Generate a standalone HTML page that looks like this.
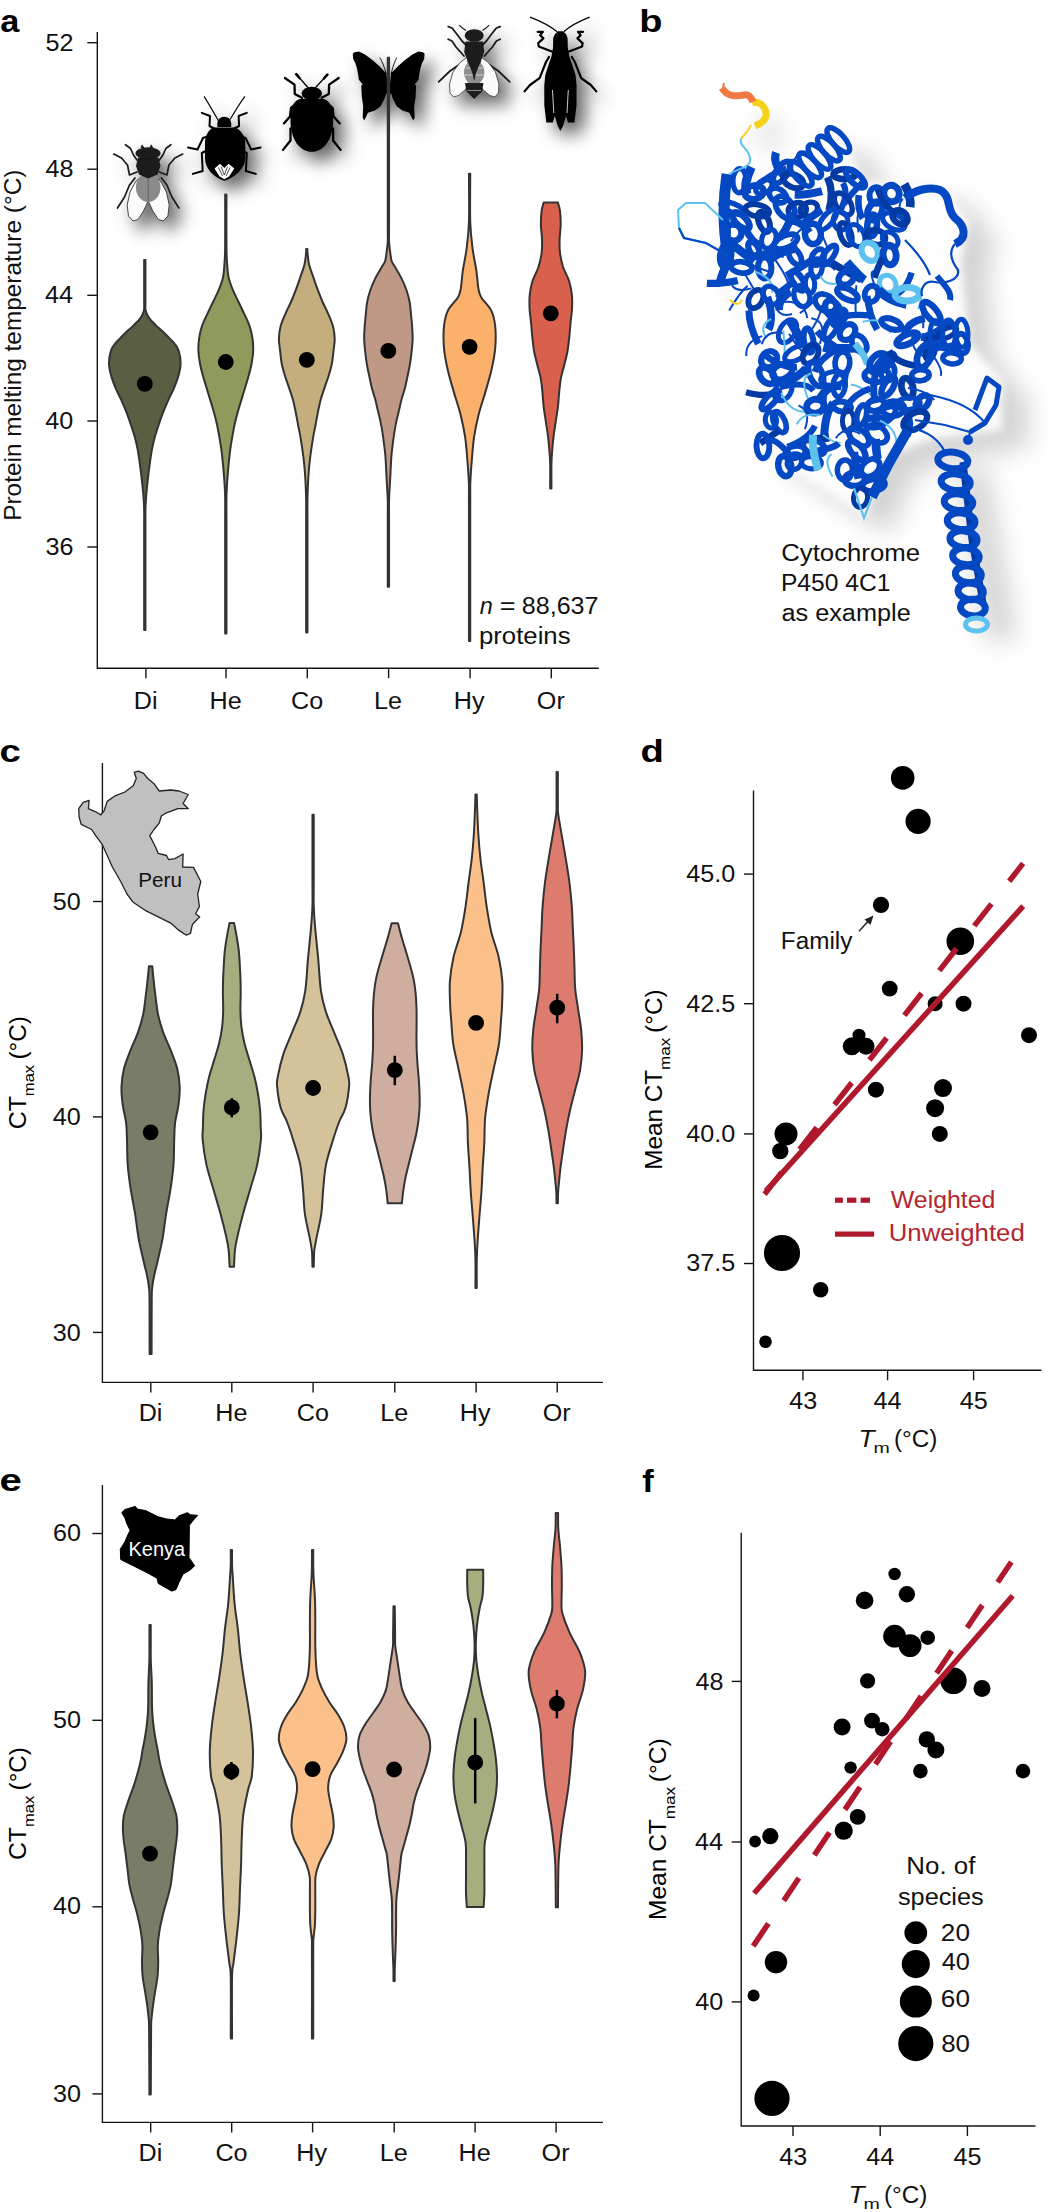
<!DOCTYPE html>
<html><head><meta charset="utf-8"><style>
html,body{margin:0;padding:0;background:#fff;}
svg{display:block;font-family:"Liberation Sans",sans-serif;}
</style></head><body>
<svg width="1057" height="2212" viewBox="0 0 1057 2212">
<rect width="1057" height="2212" fill="#fff"/>
<defs>
<filter id="sh" x="-60%" y="-60%" width="220%" height="220%"><feGaussianBlur in="SourceAlpha" stdDeviation="8.5"/><feOffset dx="9" dy="10" result="b"/><feComponentTransfer in="b" result="c"><feFuncA type="linear" slope="0.6"/></feComponentTransfer><feMerge><feMergeNode in="c"/><feMergeNode in="SourceGraphic"/></feMerge></filter>
<filter id="shp" x="-30%" y="-30%" width="160%" height="160%"><feGaussianBlur in="SourceAlpha" stdDeviation="9"/><feOffset dx="14" dy="12" result="b"/><feComponentTransfer in="b" result="c"><feFuncA type="linear" slope="0.35"/></feComponentTransfer><feMerge><feMergeNode in="c"/><feMergeNode in="SourceGraphic"/></feMerge></filter>
<filter id="blurW" x="-20%" y="-20%" width="140%" height="140%"><feGaussianBlur stdDeviation="5"/></filter>
<filter id="blurP" x="-20%" y="-20%" width="140%" height="140%"><feGaussianBlur stdDeviation="13"/></filter>
</defs>
<text x="0.17" y="32.00" font-size="32" font-weight="bold" textLength="19.10" lengthAdjust="spacingAndGlyphs" fill="#000">a</text>
<path d="M97.3,32 V668.2 H598.8" fill="none" stroke="#141414" stroke-width="1.4"/>
<path d="M87.3,42.7 H97.3" stroke="#141414" stroke-width="1.4"/>
<path d="M87.3,169.2 H97.3" stroke="#141414" stroke-width="1.4"/>
<path d="M87.3,295.3 H97.3" stroke="#141414" stroke-width="1.4"/>
<path d="M87.3,421.0 H97.3" stroke="#141414" stroke-width="1.4"/>
<path d="M87.3,547.0 H97.3" stroke="#141414" stroke-width="1.4"/>
<path d="M145.9,668.2 V678.2" stroke="#141414" stroke-width="1.4"/>
<path d="M226.0,668.2 V678.2" stroke="#141414" stroke-width="1.4"/>
<path d="M307.3,668.2 V678.2" stroke="#141414" stroke-width="1.4"/>
<path d="M388.6,668.2 V678.2" stroke="#141414" stroke-width="1.4"/>
<path d="M470.1,668.2 V678.2" stroke="#141414" stroke-width="1.4"/>
<path d="M551.3,668.2 V678.2" stroke="#141414" stroke-width="1.4"/>
<text x="45.49" y="50.60" font-size="23.5" textLength="27.97" lengthAdjust="spacingAndGlyphs" fill="#111">52</text>
<text x="45.49" y="177.10" font-size="23.5" textLength="27.97" lengthAdjust="spacingAndGlyphs" fill="#111">48</text>
<text x="44.99" y="303.20" font-size="23.5" textLength="27.97" lengthAdjust="spacingAndGlyphs" fill="#111">44</text>
<text x="45.24" y="428.90" font-size="23.5" textLength="27.97" lengthAdjust="spacingAndGlyphs" fill="#111">40</text>
<text x="45.49" y="554.90" font-size="23.5" textLength="27.97" lengthAdjust="spacingAndGlyphs" fill="#111">36</text>
<text x="133.83" y="709.00" font-size="23.5" textLength="23.75" lengthAdjust="spacingAndGlyphs" fill="#111">Di</text>
<text x="209.53" y="709.00" font-size="23.5" textLength="32.14" lengthAdjust="spacingAndGlyphs" fill="#111">He</text>
<text x="291.08" y="709.00" font-size="23.5" textLength="32.14" lengthAdjust="spacingAndGlyphs" fill="#111">Co</text>
<text x="374.14" y="709.00" font-size="23.5" textLength="27.97" lengthAdjust="spacingAndGlyphs" fill="#111">Le</text>
<text x="453.76" y="709.00" font-size="23.5" textLength="30.73" lengthAdjust="spacingAndGlyphs" fill="#111">Hy</text>
<text x="536.84" y="709.00" font-size="23.5" textLength="27.93" lengthAdjust="spacingAndGlyphs" fill="#111">Or</text>
<g filter="url(#sh)"><path d="M125.5,144.7 L130.5,148.5 L133.5,155.0 L137.0,160.0" fill="none" stroke="#1a1a1a" stroke-width="1.7" stroke-linejoin="round" stroke-linecap="round"/><path d="M170.9,144.7 L165.9,148.5 L162.9,155.0 L159.4,160.0" fill="none" stroke="#1a1a1a" stroke-width="1.7" stroke-linejoin="round" stroke-linecap="round"/><path d="M113.7,154.1 L121.5,158.0 L127.5,165.0 L129.5,175.0 L137.0,172.0" fill="none" stroke="#1a1a1a" stroke-width="1.7" stroke-linejoin="round" stroke-linecap="round"/><path d="M182.7,154.1 L174.9,158.0 L168.9,165.0 L166.9,175.0 L159.4,172.0" fill="none" stroke="#1a1a1a" stroke-width="1.7" stroke-linejoin="round" stroke-linecap="round"/><path d="M117.5,208.0 L124.5,197.0 L129.5,185.0 L135.0,178.0" fill="none" stroke="#1a1a1a" stroke-width="1.7" stroke-linejoin="round" stroke-linecap="round"/><path d="M178.9,208.0 L171.9,197.0 L166.9,185.0 L161.4,178.0" fill="none" stroke="#1a1a1a" stroke-width="1.7" stroke-linejoin="round" stroke-linecap="round"/><path d="M144.0,175.0 L136.0,181.0 L130.0,192.0 L127.2,205.0 L128.5,216.0 L133.0,221.0 L138.0,219.5 L143.5,211.0 L148.2,201.0 Z" fill="#fbfbfb" stroke="#222" stroke-width="0.8"/><path d="M152.4,175.0 L160.4,181.0 L166.4,192.0 L169.2,205.0 L167.9,216.0 L163.4,221.0 L158.4,219.5 L152.9,211.0 L148.2,201.0 Z" fill="#fbfbfb" stroke="#222" stroke-width="0.8"/><ellipse cx="148.2" cy="187.5" rx="12.3" ry="14.5" fill="#8a8a8a"/><path d="M148.2,176 V201" stroke="#555" stroke-width="0.8"/><path d="M138.0,157.5 L158.5,157.5 L160.5,166.0 L157.5,174.5 L148.2,178.5 L139.0,174.5 L136.0,166.0 Z" fill="#1a1a1a"/><ellipse cx="148" cy="153.2" rx="12.5" ry="6.0" fill="#1a1a1a"/><path d="M140.5,148 L142,144.3 L144.5,148 Z M149.5,148 L151,144.3 L153.5,148 Z" fill="#1a1a1a"/></g><g filter="url(#sh)"><path d="M201.8,112.9 L210.0,116.0 L209.5,126.0 L215.0,129.0" fill="none" stroke="#000" stroke-width="2.0" stroke-linejoin="round" stroke-linecap="round"/><path d="M246.8,112.9 L238.6,116.0 L239.1,126.0 L233.6,129.0" fill="none" stroke="#000" stroke-width="2.0" stroke-linejoin="round" stroke-linecap="round"/><path d="M188.0,147.4 L197.5,149.5 L203.0,138.0 L206.0,137.0" fill="none" stroke="#000" stroke-width="2.0" stroke-linejoin="round" stroke-linecap="round"/><path d="M260.6,147.4 L251.1,149.5 L245.6,138.0 L242.6,137.0" fill="none" stroke="#000" stroke-width="2.0" stroke-linejoin="round" stroke-linecap="round"/><path d="M192.8,173.9 L202.7,171.0 L201.8,153.0 L206.0,151.0" fill="none" stroke="#000" stroke-width="2.0" stroke-linejoin="round" stroke-linecap="round"/><path d="M255.8,173.9 L245.9,171.0 L246.8,153.0 L242.6,151.0" fill="none" stroke="#000" stroke-width="2.0" stroke-linejoin="round" stroke-linecap="round"/><path d="M218.3,120.5 Q210,106 204.1,96.4 M230.1,119.5 Q238,106 244.8,96.4" fill="none" stroke="#000" stroke-width="1.1"/><path d="M217.5,127 C216.5,120 219.5,116.7 224.3,116.7 C229,116.7 232,120 231.2,127 Z" fill="#000"/><path d="M213,127.5 L235.6,127.5 C241,130.5 245,136 245.3,142 L245.3,158 C245,168 236,177 224.3,180.8 C212.6,177 205,168 205,158 L205,142 C205.3,136 208,130.5 213,127.5 Z" fill="#000"/><path d="M214.5,168.5 L220,163.8 L224.3,168 L228.6,163.8 L234.3,168.5 L229,176.5 L224.3,179.3 L219.6,176.5 Z" fill="#fff"/><path d="M218.5,167.5 L222.5,176 M221,166.5 L224.3,175 M227.6,166.5 L224.3,175 M230.1,167.5 L226.1,176" stroke="#000" stroke-width="0.7"/></g><g filter="url(#sh)"><path d="M284.9,78.0 L294.5,84.6 L294.8,94.0 L302.0,97.8" fill="none" stroke="#000" stroke-width="2.3" stroke-linejoin="round" stroke-linecap="round"/><path d="M338.7,78.0 L329.1,84.6 L328.8,94.0 L321.6,97.8" fill="none" stroke="#000" stroke-width="2.3" stroke-linejoin="round" stroke-linecap="round"/><path d="M283.9,123.4 L290.0,116.5 L291.0,108.0 L293.0,106.0" fill="none" stroke="#000" stroke-width="2.3" stroke-linejoin="round" stroke-linecap="round"/><path d="M339.7,123.4 L333.6,116.5 L332.6,108.0 L330.6,106.0" fill="none" stroke="#000" stroke-width="2.3" stroke-linejoin="round" stroke-linecap="round"/><path d="M283.0,149.9 L290.5,140.5 L290.5,128.5" fill="none" stroke="#000" stroke-width="2.3" stroke-linejoin="round" stroke-linecap="round"/><path d="M340.6,149.9 L333.1,140.5 L333.1,128.5" fill="none" stroke="#000" stroke-width="2.3" stroke-linejoin="round" stroke-linecap="round"/><path d="M296.2,74.2 L308,87.5 M327.4,74.7 L315.6,87.5" stroke="#000" stroke-width="1.3"/><path d="M296.2,74.2 L299.5,78 M327.4,74.7 L324,78.3" stroke="#000" stroke-width="2.6" stroke-linecap="round"/><ellipse cx="311.8" cy="93.5" rx="10.2" ry="6.8" fill="#000"/><path d="M301,98.8 C291,101 290.3,112 290.5,122 C291,140 300,151.8 311.8,151.8 C323.5,151.8 332.6,140 333.1,122 C333.3,112 332.6,101 322.6,98.8 Z" fill="#000"/></g><g filter="url(#sh)"><path d="M386.4,73.6 L379.7,66.5 L373.0,60.5 L365.0,54.5 L358.9,51.4 L354.5,52.2 L352.8,53.7 L353.2,58.9 L355.5,63.5 L357.0,68.4 L358.0,74.0 L358.9,79.7 L362.7,84.5 L361.3,85.4 L361.8,96.8 L363.2,106.2 L362.7,117.6 L364.1,120.4 L366.0,117.1 L367.9,112.8 L375.0,110.5 L380.7,106.2 L384.5,98.7 L386.4,93.0 L388.7,97.7 Z" fill="#000"/><path d="M391.0,73.6 L397.7,66.5 L404.4,60.5 L412.4,54.5 L418.5,51.4 L422.9,52.2 L424.6,53.7 L424.2,58.9 L421.9,63.5 L420.4,68.4 L419.4,74.0 L418.5,79.7 L414.7,84.5 L416.1,85.4 L415.6,96.8 L414.2,106.2 L414.7,117.6 L413.3,120.4 L411.4,117.1 L409.5,112.8 L402.4,110.5 L396.7,106.2 L392.9,98.7 L391.0,93.0 L388.7,97.7 Z" fill="#000"/><path d="M386.3,74 C384,66 382,61 379.7,57.5 M391.1,74 C393,66 395,61 396.8,57.5" fill="none" stroke="#000" stroke-width="0.9"/></g><g filter="url(#sh)"><path d="M448.2,26.6 L452.0,28.0 L456.0,33.0 L462.0,41.0 L466.0,45.0" fill="none" stroke="#1a1a1a" stroke-width="1.8" stroke-linejoin="round" stroke-linecap="round"/><path d="M500.2,26.6 L496.4,28.0 L492.4,33.0 L486.4,41.0 L482.4,45.0" fill="none" stroke="#1a1a1a" stroke-width="1.8" stroke-linejoin="round" stroke-linecap="round"/><path d="M448.2,39.3 L452.0,41.0 L456.0,47.0 L464.0,56.0" fill="none" stroke="#1a1a1a" stroke-width="1.8" stroke-linejoin="round" stroke-linecap="round"/><path d="M500.2,39.3 L496.4,41.0 L492.4,47.0 L484.4,56.0" fill="none" stroke="#1a1a1a" stroke-width="1.8" stroke-linejoin="round" stroke-linecap="round"/><path d="M438.7,81.9 L450.0,71.0 L463.0,62.0" fill="none" stroke="#1a1a1a" stroke-width="1.8" stroke-linejoin="round" stroke-linecap="round"/><path d="M509.7,81.9 L498.4,71.0 L485.4,62.0" fill="none" stroke="#1a1a1a" stroke-width="1.8" stroke-linejoin="round" stroke-linecap="round"/><path d="M459.1,25.1 L463,28.5 L466,30.5 M489.3,25.1 L485.4,28.5 L482.4,30.5" fill="none" stroke="#1a1a1a" stroke-width="1.1"/><path d="M467.5,57.0 L460.0,62.5 L453.0,72.0 L449.5,84.0 L450.0,93.0 L453.5,97.0 L458.5,95.5 L465.0,90.0 L469.5,84.0 Z" fill="#fbfbfb" stroke="#333" stroke-width="0.8"/><path d="M480.9,57.0 L488.4,62.5 L495.4,72.0 L498.9,84.0 L498.4,93.0 L494.9,97.0 L489.9,95.5 L483.4,90.0 L478.9,84.0 Z" fill="#fbfbfb" stroke="#333" stroke-width="0.8"/><ellipse cx="474.2" cy="72.5" rx="10.2" ry="12.5" fill="#8f8f8f"/><path d="M466,68 H482.5 M465,75 H483.5" stroke="#ddd" stroke-width="0.8"/><path d="M465,83 L483.5,83 L482,91.5 L474.2,99 L466.5,91.5 Z" fill="#1a1a1a"/><path d="M467.5,90.5 H481" stroke="#bbb" stroke-width="0.7"/><path d="M465.5,41.5 L483.0,41.5 L484.2,52.0 L480.5,62.0 L476.0,73.0 L474.2,81.0 L472.4,73.0 L468.0,62.0 L464.2,52.0 Z" fill="#1a1a1a"/><ellipse cx="474.2" cy="35.5" rx="9.5" ry="6.3" fill="#1a1a1a"/></g><g filter="url(#sh)"><path d="M537.7,31.8 L542.9,31.8 L540.1,35.1 L543.4,38.4 L538.2,43.1 L538.7,46.4 L551.9,51.6" fill="none" stroke="#000" stroke-width="2.2" stroke-linejoin="round" stroke-linecap="round"/><path d="M583.1,31.8 L577.9,31.8 L580.7,35.1 L577.4,38.4 L582.6,43.1 L582.1,46.4 L568.9,51.6" fill="none" stroke="#000" stroke-width="2.2" stroke-linejoin="round" stroke-linecap="round"/><path d="M524.5,91.4 L530.0,85.0 L539.6,78.1 L546.0,62.0 L549.0,57.0" fill="none" stroke="#000" stroke-width="2.2" stroke-linejoin="round" stroke-linecap="round"/><path d="M596.3,91.4 L590.8,85.0 L581.2,78.1 L574.8,62.0 L571.8,57.0" fill="none" stroke="#000" stroke-width="2.2" stroke-linejoin="round" stroke-linecap="round"/><path d="M530.1,17.1 Q548,24 557.1,31.8 M589.7,17.1 Q572,24 563.7,31.8" fill="none" stroke="#000" stroke-width="1.3"/><path d="M555.0,34.0 L558.0,31.3 L563.0,31.3 L566.0,34.0 L567.6,38.0 L567.8,48.0 L569.5,57.0 L572.0,64.0 L575.5,75.0 L576.5,85.0 L576.5,105.0 L574.5,122.6 L568.0,122.6 L566.0,116.0 L563.0,126.0 L560.4,131.0 L557.8,126.0 L554.8,116.0 L552.8,122.6 L546.3,122.6 L544.3,105.0 L544.3,85.0 L545.3,75.0 L548.8,64.0 L551.3,57.0 L553.0,48.0 L553.2,38.0 Z" fill="#000"/><path d="M552.5,90 L553.8,113 M568.3,90 L567,113" stroke="#fff" stroke-width="0.8"/></g>
<path d="M145.45,260.00 C145.45,266.67 145.45,291.83 145.45,300.00 C145.45,308.17 145.23,306.70 145.45,309.00 C145.68,311.30 146.08,312.13 146.80,313.80 C147.53,315.47 148.15,316.95 149.80,319.00 C151.45,321.05 154.45,323.93 156.70,326.10 C158.95,328.27 161.15,329.95 163.30,332.00 C165.45,334.05 167.68,336.40 169.60,338.40 C171.52,340.40 173.28,341.95 174.80,344.00 C176.32,346.05 177.73,347.53 178.70,350.70 C179.67,353.87 180.62,358.90 180.60,363.00 C180.58,367.10 179.67,371.20 178.60,375.30 C177.53,379.40 175.90,383.50 174.20,387.60 C172.50,391.70 170.23,395.80 168.40,399.90 C166.57,404.00 164.80,408.10 163.20,412.20 C161.60,416.30 160.18,420.40 158.80,424.50 C157.42,428.60 156.03,432.70 154.90,436.80 C153.77,440.90 152.80,445.00 152.00,449.10 C151.20,453.20 150.68,457.30 150.10,461.40 C149.52,465.50 149.00,469.60 148.50,473.70 C148.00,477.80 147.52,481.90 147.10,486.00 C146.68,490.10 146.28,494.30 146.00,498.30 C145.72,502.30 145.54,504.72 145.45,510.00 C145.36,515.28 145.45,510.00 145.45,530.00 C145.45,550.00 145.45,613.33 145.45,630.00 L144.15,630.00 C144.15,613.33 144.15,550.00 144.15,530.00 C144.15,510.00 144.24,515.28 144.15,510.00 C144.06,504.72 143.88,502.30 143.60,498.30 C143.33,494.30 142.92,490.10 142.50,486.00 C142.08,481.90 141.60,477.80 141.10,473.70 C140.60,469.60 140.08,465.50 139.50,461.40 C138.92,457.30 138.40,453.20 137.60,449.10 C136.80,445.00 135.83,440.90 134.70,436.80 C133.57,432.70 132.18,428.60 130.80,424.50 C129.42,420.40 128.00,416.30 126.40,412.20 C124.80,408.10 123.03,404.00 121.20,399.90 C119.37,395.80 117.10,391.70 115.40,387.60 C113.70,383.50 112.07,379.40 111.00,375.30 C109.93,371.20 109.02,367.10 109.00,363.00 C108.98,358.90 109.93,353.87 110.90,350.70 C111.87,347.53 113.28,346.05 114.80,344.00 C116.32,341.95 118.08,340.40 120.00,338.40 C121.92,336.40 124.15,334.05 126.30,332.00 C128.45,329.95 130.65,328.27 132.90,326.10 C135.15,323.93 138.15,321.05 139.80,319.00 C141.45,316.95 142.08,315.47 142.80,313.80 C143.53,312.13 143.93,311.30 144.15,309.00 C144.38,306.70 144.15,308.17 144.15,300.00 C144.15,291.83 144.15,266.67 144.15,260.00 Z" fill="#5a5e43" stroke="#333333" stroke-width="2.0" stroke-linejoin="round"/>
<path d="M226.45,194.50 C226.45,202.92 226.36,233.75 226.45,245.00 C226.54,256.25 226.66,256.68 227.00,262.00 C227.34,267.32 227.58,272.37 228.50,276.90 C229.42,281.43 230.87,285.10 232.50,289.20 C234.13,293.30 236.35,297.40 238.30,301.50 C240.25,305.60 242.32,309.70 244.20,313.80 C246.08,317.90 248.22,322.00 249.60,326.10 C250.98,330.20 251.90,334.30 252.50,338.40 C253.10,342.50 253.33,346.60 253.20,350.70 C253.07,354.80 252.43,358.90 251.70,363.00 C250.97,367.10 249.90,371.20 248.80,375.30 C247.70,379.40 246.33,383.50 245.10,387.60 C243.87,391.70 242.63,395.80 241.40,399.90 C240.17,404.00 238.83,408.10 237.70,412.20 C236.57,416.30 235.50,420.40 234.60,424.50 C233.70,428.60 233.02,432.70 232.30,436.80 C231.58,440.90 230.87,445.00 230.30,449.10 C229.73,453.20 229.32,457.30 228.90,461.40 C228.48,465.50 228.13,469.60 227.80,473.70 C227.47,477.80 227.12,481.90 226.90,486.00 C226.68,490.10 226.53,492.63 226.45,498.30 C226.38,503.97 226.45,497.47 226.45,520.00 C226.45,542.53 226.45,614.58 226.45,633.50 L225.15,633.50 C225.15,614.58 225.15,542.53 225.15,520.00 C225.15,497.47 225.22,503.97 225.15,498.30 C225.08,492.63 224.93,490.10 224.70,486.00 C224.48,481.90 224.13,477.80 223.80,473.70 C223.47,469.60 223.12,465.50 222.70,461.40 C222.28,457.30 221.87,453.20 221.30,449.10 C220.73,445.00 220.02,440.90 219.30,436.80 C218.58,432.70 217.90,428.60 217.00,424.50 C216.10,420.40 215.03,416.30 213.90,412.20 C212.77,408.10 211.43,404.00 210.20,399.90 C208.97,395.80 207.73,391.70 206.50,387.60 C205.27,383.50 203.90,379.40 202.80,375.30 C201.70,371.20 200.63,367.10 199.90,363.00 C199.17,358.90 198.53,354.80 198.40,350.70 C198.27,346.60 198.50,342.50 199.10,338.40 C199.70,334.30 200.62,330.20 202.00,326.10 C203.38,322.00 205.52,317.90 207.40,313.80 C209.28,309.70 211.35,305.60 213.30,301.50 C215.25,297.40 217.47,293.30 219.10,289.20 C220.73,285.10 222.18,281.43 223.10,276.90 C224.02,272.37 224.26,267.32 224.60,262.00 C224.94,256.68 225.06,256.25 225.15,245.00 C225.24,233.75 225.15,202.92 225.15,194.50 Z" fill="#8f9b5d" stroke="#333333" stroke-width="2.0" stroke-linejoin="round"/>
<path d="M307.45,249.00 C307.45,249.55 307.17,249.70 307.45,252.30 C307.73,254.90 308.14,260.50 309.10,264.60 C310.06,268.70 311.80,272.80 313.20,276.90 C314.60,281.00 315.97,285.10 317.50,289.20 C319.03,293.30 320.62,297.40 322.40,301.50 C324.18,305.60 326.45,309.70 328.20,313.80 C329.95,317.90 331.82,322.00 332.90,326.10 C333.98,330.20 334.60,334.30 334.70,338.40 C334.80,342.50 333.95,346.60 333.50,350.70 C333.05,354.80 332.78,358.90 332.00,363.00 C331.22,367.10 330.03,371.20 328.80,375.30 C327.57,379.40 325.97,383.50 324.60,387.60 C323.23,391.70 321.72,395.80 320.60,399.90 C319.48,404.00 318.73,408.10 317.90,412.20 C317.07,416.30 316.38,420.40 315.60,424.50 C314.82,428.60 313.92,432.70 313.20,436.80 C312.48,440.90 311.88,445.00 311.30,449.10 C310.72,453.20 310.15,457.30 309.70,461.40 C309.25,465.50 308.90,469.60 308.60,473.70 C308.30,477.80 308.09,481.62 307.90,486.00 C307.71,490.38 307.52,494.33 307.45,500.00 C307.38,505.67 307.45,497.92 307.45,520.00 C307.45,542.08 307.45,613.75 307.45,632.50 L306.15,632.50 C306.15,613.75 306.15,542.08 306.15,520.00 C306.15,497.92 306.23,505.67 306.15,500.00 C306.08,494.33 305.89,490.38 305.70,486.00 C305.51,481.62 305.30,477.80 305.00,473.70 C304.70,469.60 304.35,465.50 303.90,461.40 C303.45,457.30 302.88,453.20 302.30,449.10 C301.72,445.00 301.12,440.90 300.40,436.80 C299.68,432.70 298.78,428.60 298.00,424.50 C297.22,420.40 296.53,416.30 295.70,412.20 C294.87,408.10 294.12,404.00 293.00,399.90 C291.88,395.80 290.37,391.70 289.00,387.60 C287.63,383.50 286.03,379.40 284.80,375.30 C283.57,371.20 282.38,367.10 281.60,363.00 C280.82,358.90 280.55,354.80 280.10,350.70 C279.65,346.60 278.80,342.50 278.90,338.40 C279.00,334.30 279.62,330.20 280.70,326.10 C281.78,322.00 283.65,317.90 285.40,313.80 C287.15,309.70 289.42,305.60 291.20,301.50 C292.98,297.40 294.57,293.30 296.10,289.20 C297.63,285.10 299.00,281.00 300.40,276.90 C301.80,272.80 303.54,268.70 304.50,264.60 C305.46,260.50 305.88,254.90 306.15,252.30 C306.43,249.70 306.15,249.55 306.15,249.00 Z" fill="#c5ae7e" stroke="#333333" stroke-width="2.0" stroke-linejoin="round"/>
<path d="M389.05,57.70 C389.05,81.42 389.05,171.28 389.05,200.00 C389.05,228.72 389.05,223.08 389.05,230.00 C389.05,236.92 388.82,237.53 389.05,241.50 C389.27,245.47 389.96,250.52 390.40,253.80 C390.84,257.08 391.02,259.15 391.70,261.20 C392.38,263.25 392.87,263.23 394.50,266.10 C396.13,268.97 399.47,274.30 401.50,278.40 C403.53,282.50 405.32,286.60 406.70,290.70 C408.08,294.80 409.07,298.90 409.80,303.00 C410.53,307.10 410.70,311.20 411.10,315.30 C411.50,319.40 411.95,323.50 412.20,327.60 C412.45,331.70 412.75,335.45 412.60,339.90 C412.45,344.35 411.78,350.02 411.30,354.30 C410.82,358.58 410.35,361.83 409.70,365.60 C409.05,369.37 408.20,373.13 407.40,376.90 C406.60,380.67 405.88,384.43 404.90,388.20 C403.92,391.97 402.50,395.73 401.50,399.50 C400.50,403.27 399.78,407.03 398.90,410.80 C398.02,414.57 396.98,418.33 396.20,422.10 C395.42,425.87 394.78,429.63 394.20,433.40 C393.62,437.17 393.17,440.93 392.70,444.70 C392.23,448.47 391.82,450.35 391.40,456.00 C390.98,461.65 390.59,471.27 390.20,478.60 C389.81,485.93 389.24,493.10 389.05,500.00 C388.86,506.90 389.05,505.53 389.05,520.00 C389.05,534.47 389.05,575.67 389.05,586.80 L387.75,586.80 C387.75,575.67 387.75,534.47 387.75,520.00 C387.75,505.53 387.94,506.90 387.75,500.00 C387.56,493.10 386.99,485.93 386.60,478.60 C386.21,471.27 385.82,461.65 385.40,456.00 C384.98,450.35 384.57,448.47 384.10,444.70 C383.63,440.93 383.18,437.17 382.60,433.40 C382.02,429.63 381.38,425.87 380.60,422.10 C379.82,418.33 378.78,414.57 377.90,410.80 C377.02,407.03 376.30,403.27 375.30,399.50 C374.30,395.73 372.88,391.97 371.90,388.20 C370.92,384.43 370.20,380.67 369.40,376.90 C368.60,373.13 367.75,369.37 367.10,365.60 C366.45,361.83 365.98,358.58 365.50,354.30 C365.02,350.02 364.35,344.35 364.20,339.90 C364.05,335.45 364.35,331.70 364.60,327.60 C364.85,323.50 365.30,319.40 365.70,315.30 C366.10,311.20 366.27,307.10 367.00,303.00 C367.73,298.90 368.72,294.80 370.10,290.70 C371.48,286.60 373.27,282.50 375.30,278.40 C377.33,274.30 380.67,268.97 382.30,266.10 C383.93,263.23 384.42,263.25 385.10,261.20 C385.78,259.15 385.96,257.08 386.40,253.80 C386.84,250.52 387.52,245.47 387.75,241.50 C387.98,237.53 387.75,236.92 387.75,230.00 C387.75,223.08 387.75,228.72 387.75,200.00 C387.75,171.28 387.75,81.42 387.75,57.70 Z" fill="#c09986" stroke="#333333" stroke-width="2.0" stroke-linejoin="round"/>
<path d="M470.25,173.70 C470.25,181.75 469.86,209.52 470.25,222.00 C470.64,234.48 471.58,240.47 472.60,248.60 C473.62,256.73 475.43,264.15 476.40,270.80 C477.37,277.45 477.58,284.07 478.40,288.50 C479.22,292.93 479.15,293.72 481.30,297.40 C483.45,301.08 488.98,305.82 491.30,310.60 C493.62,315.38 494.55,319.82 495.20,326.10 C495.85,332.38 495.85,340.90 495.20,348.30 C494.55,355.70 492.97,363.12 491.30,370.50 C489.63,377.88 487.32,385.22 485.20,392.60 C483.08,399.98 480.45,407.42 478.60,414.80 C476.75,422.18 475.22,429.53 474.10,436.90 C472.98,444.27 472.52,451.62 471.90,459.00 C471.28,466.38 470.68,473.80 470.40,481.20 C470.12,488.60 470.27,476.77 470.25,503.40 C470.23,530.03 470.25,618.07 470.25,641.00 L468.95,641.00 C468.95,618.07 468.98,530.03 468.95,503.40 C468.93,476.77 469.08,488.60 468.80,481.20 C468.52,473.80 467.92,466.38 467.30,459.00 C466.68,451.62 466.22,444.27 465.10,436.90 C463.98,429.53 462.45,422.18 460.60,414.80 C458.75,407.42 456.12,399.98 454.00,392.60 C451.88,385.22 449.57,377.88 447.90,370.50 C446.23,363.12 444.65,355.70 444.00,348.30 C443.35,340.90 443.35,332.38 444.00,326.10 C444.65,319.82 445.58,315.38 447.90,310.60 C450.22,305.82 455.75,301.08 457.90,297.40 C460.05,293.72 459.98,292.93 460.80,288.50 C461.62,284.07 461.83,277.45 462.80,270.80 C463.77,264.15 465.58,256.73 466.60,248.60 C467.62,240.47 468.56,234.48 468.95,222.00 C469.34,209.52 468.95,181.75 468.95,173.70 Z" fill="#fbb06b" stroke="#333333" stroke-width="2.0" stroke-linejoin="round"/>
<path d="M557.90,202.60 C558.25,204.00 559.53,207.27 560.00,211.00 C560.47,214.73 560.77,220.33 560.70,225.00 C560.63,229.67 559.72,234.33 559.60,239.00 C559.48,243.67 559.42,248.33 560.00,253.00 C560.58,257.67 561.58,262.33 563.10,267.00 C564.62,271.67 567.63,276.32 569.10,281.00 C570.57,285.68 571.42,290.42 571.90,295.10 C572.38,299.78 572.23,304.43 572.00,309.10 C571.77,313.77 570.95,318.42 570.50,323.10 C570.05,327.78 569.80,332.52 569.30,337.20 C568.80,341.88 568.35,346.53 567.50,351.20 C566.65,355.87 565.33,360.53 564.20,365.20 C563.07,369.87 561.55,374.53 560.70,379.20 C559.85,383.87 559.57,388.53 559.10,393.20 C558.63,397.87 558.45,402.52 557.90,407.20 C557.35,411.88 556.50,416.62 555.80,421.30 C555.10,425.98 554.28,430.63 553.70,435.30 C553.12,439.97 552.67,444.63 552.30,449.30 C551.92,453.97 551.59,456.77 551.45,463.30 C551.31,469.83 551.45,484.30 551.45,488.50 L550.15,488.50 C550.15,484.30 550.29,469.83 550.15,463.30 C550.01,456.77 549.67,453.97 549.30,449.30 C548.92,444.63 548.48,439.97 547.90,435.30 C547.32,430.63 546.50,425.98 545.80,421.30 C545.10,416.62 544.25,411.88 543.70,407.20 C543.15,402.52 542.97,397.87 542.50,393.20 C542.03,388.53 541.75,383.87 540.90,379.20 C540.05,374.53 538.53,369.87 537.40,365.20 C536.27,360.53 534.95,355.87 534.10,351.20 C533.25,346.53 532.80,341.88 532.30,337.20 C531.80,332.52 531.55,327.78 531.10,323.10 C530.65,318.42 529.83,313.77 529.60,309.10 C529.37,304.43 529.22,299.78 529.70,295.10 C530.18,290.42 531.03,285.68 532.50,281.00 C533.97,276.32 536.98,271.67 538.50,267.00 C540.02,262.33 541.02,257.67 541.60,253.00 C542.18,248.33 542.12,243.67 542.00,239.00 C541.88,234.33 540.97,229.67 540.90,225.00 C540.83,220.33 541.13,214.73 541.60,211.00 C542.07,207.27 543.35,204.00 543.70,202.60 Z" fill="#d9604c" stroke="#333333" stroke-width="2.0" stroke-linejoin="round"/>
<circle cx="144.8" cy="383.9" r="7.9" fill="#000"/>
<circle cx="225.8" cy="362" r="7.9" fill="#000"/>
<circle cx="306.8" cy="359.9" r="7.9" fill="#000"/>
<circle cx="388.3" cy="350.9" r="7.9" fill="#000"/>
<circle cx="469.6" cy="346.8" r="7.9" fill="#000"/>
<circle cx="550.8" cy="313.3" r="7.9" fill="#000"/>
<text x="479.63" y="614.30" font-size="23.5" font-style="italic" textLength="13.05" lengthAdjust="spacingAndGlyphs" fill="#111">n</text>
<text x="499.65" y="614.30" font-size="23.5" textLength="15.73" lengthAdjust="spacingAndGlyphs" fill="#111">=</text>
<text x="521.80" y="614.30" font-size="23.5" textLength="76.71" lengthAdjust="spacingAndGlyphs" fill="#111">88,637</text>
<text x="478.95" y="643.50" font-size="23.5" textLength="91.61" lengthAdjust="spacingAndGlyphs" fill="#111">proteins</text>
<text transform="rotate(-90)" x="-520.75" y="21.20" font-size="24" textLength="351.12" lengthAdjust="spacingAndGlyphs" fill="#111">Protein melting temperature (°C)</text>
<text x="639.34" y="32.00" font-size="32" font-weight="bold" textLength="23.21" lengthAdjust="spacingAndGlyphs" fill="#000">b</text>
<g filter="url(#blurP)" opacity="0.38"><path d="M748.9,195.2 L817.6,179.0 L825.7,150.7 L870.1,154.8 L890.3,199.2 L967.1,203.3 L995.4,239.6 L987.3,278.0 L995.4,360.8 L1028.0,398.0 L1028.0,448.0 L955.0,458.0 L914.6,474.0 L890.3,534.6 L825.7,494.2 L785.3,465.9 L781.3,441.6 L765.1,328.5 L728.7,271.9 Z" fill="#8a8a8a"/><path d="M972,470 L1002,640" stroke="#8a8a8a" stroke-width="30"/><path d="M765,118 L775,150" stroke="#aaa" stroke-width="20"/></g><path d="M722.9,177.2 L791.6,161.0 L799.7,132.7 L844.1,136.8 L864.3,181.2 L941.1,185.3 L969.4,221.6 L961.3,260.0 L969.4,342.8 L1002.0,380.0 L1002.0,430.0 L929.0,440.0 L888.6,456.0 L864.3,516.6 L799.7,476.2 L759.3,447.9 L755.3,423.6 L739.1,310.5 L702.7,253.9 Z" fill="#fdfdfd" filter="url(#blurW)"/><path d="M776.1,152.5 Q772.0,163.2 785.4,177.4" fill="none" stroke="#0548c4" stroke-width="8.1" stroke-linecap="butt"/><path d="M799.4,152.0 Q791.2,163.7 790.6,168.0" fill="none" stroke="#0548c4" stroke-width="2"/><ellipse cx="739.5" cy="180.7" rx="12.1" ry="6.6" transform="rotate(92 739.5 180.7)" fill="none" stroke="#0548c4" stroke-width="5.3"/><path d="M751.4,167.0 Q742.8,184.6 747.2,194.6" fill="none" stroke="#0548c4" stroke-width="9.0" stroke-linecap="butt"/><path d="M786.6,168.7 Q773.6,171.9 756.1,186.0" fill="none" stroke="#0548c4" stroke-width="6.2" stroke-linecap="butt"/><ellipse cx="781.9" cy="172.3" rx="12.6" ry="5.8" transform="rotate(125 781.9 172.3)" fill="none" stroke="#0548c4" stroke-width="5.9"/><ellipse cx="793.3" cy="180.9" rx="10.7" ry="6.5" transform="rotate(24 793.3 180.9)" fill="none" stroke="#033aa4" stroke-width="6.1"/><ellipse cx="844.5" cy="174.2" rx="11.0" ry="4.9" transform="rotate(179 844.5 174.2)" fill="none" stroke="#033aa4" stroke-width="6.6"/><ellipse cx="855.5" cy="178.5" rx="12.2" ry="5.1" transform="rotate(43 855.5 178.5)" fill="none" stroke="#0548c4" stroke-width="6.1"/><ellipse cx="754.2" cy="192.3" rx="9.5" ry="6.8" transform="rotate(169 754.2 192.3)" fill="none" stroke="#0548c4" stroke-width="6.5"/><ellipse cx="763.9" cy="186.9" rx="9.0" ry="6.1" transform="rotate(145 763.9 186.9)" fill="none" stroke="#0548c4" stroke-width="5.3"/><ellipse cx="777.9" cy="195.6" rx="9.3" ry="6.5" transform="rotate(31 777.9 195.6)" fill="none" stroke="#0548c4" stroke-width="5.7"/><path d="M822.0,191.1 Q806.7,195.1 794.7,194.6" fill="none" stroke="#0548c4" stroke-width="8.1" stroke-linecap="butt"/><path d="M827.4,177.1 Q834.5,192.2 828.9,210.5" fill="none" stroke="#033aa4" stroke-width="7.3" stroke-linecap="butt"/><path d="M842.8,183.1 Q849.0,193.3 840.6,209.9" fill="none" stroke="#0548c4" stroke-width="6.2" stroke-linecap="butt"/><path d="M865.1,180.0 Q850.9,193.6 843.8,203.9" fill="none" stroke="#0548c4" stroke-width="6.2" stroke-linecap="butt"/><ellipse cx="876.3" cy="195.5" rx="8.3" ry="6.9" transform="rotate(90 876.3 195.5)" fill="none" stroke="#0548c4" stroke-width="6.1"/><ellipse cx="891.5" cy="193.5" rx="8.3" ry="7.7" transform="rotate(71 891.5 193.5)" fill="none" stroke="#0548c4" stroke-width="6.9"/><path d="M904.4,184.2 Q911.7,196.9 910.1,207.1" fill="none" stroke="#033aa4" stroke-width="8.7" stroke-linecap="butt"/><ellipse cx="732.9" cy="208.1" rx="12.8" ry="4.5" transform="rotate(22 732.9 208.1)" fill="none" stroke="#0548c4" stroke-width="5.5"/><ellipse cx="757.2" cy="210.5" rx="12.1" ry="5.9" transform="rotate(11 757.2 210.5)" fill="none" stroke="#033aa4" stroke-width="5.7"/><ellipse cx="785.1" cy="207.5" rx="12.7" ry="7.9" transform="rotate(55 785.1 207.5)" fill="none" stroke="#0548c4" stroke-width="5.9"/><ellipse cx="797.3" cy="210.1" rx="9.0" ry="7.4" transform="rotate(166 797.3 210.1)" fill="none" stroke="#033aa4" stroke-width="5.7"/><ellipse cx="808.9" cy="209.2" rx="9.0" ry="6.7" transform="rotate(158 808.9 209.2)" fill="none" stroke="#033aa4" stroke-width="5.4"/><ellipse cx="843.3" cy="204.0" rx="12.3" ry="7.0" transform="rotate(56 843.3 204.0)" fill="none" stroke="#033aa4" stroke-width="5.3"/><path d="M858.7,195.1 Q857.2,210.5 862.7,218.3" fill="none" stroke="#0548c4" stroke-width="6.6" stroke-linecap="butt"/><ellipse cx="875.0" cy="210.9" rx="9.9" ry="6.8" transform="rotate(120 875.0 210.9)" fill="none" stroke="#0548c4" stroke-width="6.8"/><path d="M877.7,189.4 Q882.6,204.3 895.6,214.2" fill="none" stroke="#033aa4" stroke-width="6.3" stroke-linecap="butt"/><path d="M903.1,199.2 Q897.1,202.5 901.5,217.8" fill="none" stroke="#0548c4" stroke-width="2"/><ellipse cx="740.9" cy="220.7" rx="10.7" ry="5.2" transform="rotate(44 740.9 220.7)" fill="none" stroke="#0548c4" stroke-width="6.8"/><ellipse cx="763.9" cy="221.9" rx="10.5" ry="5.1" transform="rotate(69 763.9 221.9)" fill="none" stroke="#033aa4" stroke-width="6.1"/><path d="M792.8,213.0 Q786.2,231.6 779.3,237.8" fill="none" stroke="#0548c4" stroke-width="8.1" stroke-linecap="butt"/><path d="M790.3,220.5 Q802.0,221.6 809.7,232.3" fill="none" stroke="#0548c4" stroke-width="7.3" stroke-linecap="butt"/><path d="M821.9,210.1 Q805.9,220.0 799.8,227.1" fill="none" stroke="#0548c4" stroke-width="7.5" stroke-linecap="butt"/><ellipse cx="827.8" cy="219.7" rx="12.4" ry="5.1" transform="rotate(129 827.8 219.7)" fill="none" stroke="#0548c4" stroke-width="5.3"/><ellipse cx="840.6" cy="221.0" rx="9.3" ry="7.3" transform="rotate(78 840.6 221.0)" fill="none" stroke="#0548c4" stroke-width="5.1"/><path d="M861.4,211.3 Q855.4,210.9 858.5,232.4" fill="none" stroke="#0548c4" stroke-width="2"/><ellipse cx="872.1" cy="225.3" rx="10.9" ry="4.8" transform="rotate(95 872.1 225.3)" fill="none" stroke="#0548c4" stroke-width="6.6"/><ellipse cx="893.9" cy="221.4" rx="12.2" ry="7.3" transform="rotate(29 893.9 221.4)" fill="none" stroke="#0548c4" stroke-width="5.1"/><ellipse cx="900.0" cy="217.2" rx="8.2" ry="6.2" transform="rotate(39 900.0 217.2)" fill="none" stroke="#033aa4" stroke-width="6.5"/><path d="M723.9,225.3 Q734.6,225.9 726.5,243.7" fill="none" stroke="#0548c4" stroke-width="2"/><ellipse cx="733.5" cy="232.6" rx="8.2" ry="8.0" transform="rotate(76 733.5 232.6)" fill="none" stroke="#0548c4" stroke-width="6.5"/><path d="M745.2,228.0 Q752.9,244.3 761.9,245.1" fill="none" stroke="#0548c4" stroke-width="7.1" stroke-linecap="butt"/><ellipse cx="768.8" cy="238.7" rx="10.0" ry="6.8" transform="rotate(110 768.8 238.7)" fill="none" stroke="#0548c4" stroke-width="5.1"/><ellipse cx="785.8" cy="241.7" rx="12.4" ry="6.1" transform="rotate(156 785.8 241.7)" fill="none" stroke="#0548c4" stroke-width="5.8"/><path d="M808.6,226.8 Q800.9,226.0 790.9,241.3" fill="none" stroke="#0548c4" stroke-width="2"/><ellipse cx="812.9" cy="233.9" rx="10.2" ry="8.0" transform="rotate(84 812.9 233.9)" fill="none" stroke="#0548c4" stroke-width="6.4"/><path d="M818.4,223.9 Q818.0,225.3 828.4,249.7" fill="none" stroke="#0548c4" stroke-width="2"/><ellipse cx="845.6" cy="233.9" rx="11.6" ry="5.4" transform="rotate(71 845.6 233.9)" fill="none" stroke="#033aa4" stroke-width="5.7"/><ellipse cx="856.4" cy="235.6" rx="11.6" ry="7.7" transform="rotate(65 856.4 235.6)" fill="none" stroke="#0548c4" stroke-width="5.0"/><ellipse cx="875.9" cy="237.3" rx="9.6" ry="7.2" transform="rotate(15 875.9 237.3)" fill="none" stroke="#033aa4" stroke-width="6.0"/><ellipse cx="890.2" cy="239.7" rx="8.8" ry="6.6" transform="rotate(43 890.2 239.7)" fill="none" stroke="#0548c4" stroke-width="5.1"/><ellipse cx="725.7" cy="255.3" rx="11.5" ry="5.4" transform="rotate(98 725.7 255.3)" fill="none" stroke="#0548c4" stroke-width="6.5"/><path d="M729.0,242.5 Q739.8,249.9 754.1,261.4" fill="none" stroke="#0548c4" stroke-width="8.6" stroke-linecap="butt"/><ellipse cx="753.8" cy="249.3" rx="8.2" ry="4.6" transform="rotate(62 753.8 249.3)" fill="none" stroke="#0548c4" stroke-width="6.3"/><path d="M785.0,254.3 Q777.3,250.4 754.4,256.7" fill="none" stroke="#0548c4" stroke-width="8.1" stroke-linecap="butt"/><path d="M797.9,248.4 Q776.7,253.2 770.3,260.5" fill="none" stroke="#0548c4" stroke-width="7.2" stroke-linecap="butt"/><ellipse cx="795.0" cy="256.3" rx="9.4" ry="5.1" transform="rotate(59 795.0 256.3)" fill="none" stroke="#0548c4" stroke-width="5.8"/><ellipse cx="817.9" cy="257.1" rx="8.5" ry="5.7" transform="rotate(120 817.9 257.1)" fill="none" stroke="#0548c4" stroke-width="5.8"/><ellipse cx="828.7" cy="255.2" rx="11.5" ry="4.6" transform="rotate(126 828.7 255.2)" fill="none" stroke="#0548c4" stroke-width="5.8"/><ellipse cx="869.7" cy="251.7" rx="9.7" ry="7.6" transform="rotate(59 869.7 251.7)" fill="none" stroke="#5ec2ee" stroke-width="6.1"/><ellipse cx="889.6" cy="255.0" rx="9.8" ry="6.5" transform="rotate(84 889.6 255.0)" fill="none" stroke="#0548c4" stroke-width="6.9"/><path d="M730.2,257.0 Q721.3,275.3 720.4,281.8" fill="none" stroke="#0548c4" stroke-width="8.6" stroke-linecap="butt"/><ellipse cx="741.6" cy="267.4" rx="10.5" ry="5.6" transform="rotate(7 741.6 267.4)" fill="none" stroke="#0548c4" stroke-width="5.7"/><path d="M745.5,255.5 Q744.8,264.4 768.1,271.2" fill="none" stroke="#0548c4" stroke-width="2"/><ellipse cx="764.7" cy="267.8" rx="10.7" ry="6.7" transform="rotate(89 764.7 267.8)" fill="none" stroke="#0548c4" stroke-width="6.1"/><path d="M773.0,256.6 Q785.8,274.5 788.2,283.0" fill="none" stroke="#0548c4" stroke-width="2"/><path d="M812.0,259.9 Q799.1,268.9 786.5,275.6" fill="none" stroke="#0548c4" stroke-width="7.1" stroke-linecap="butt"/><ellipse cx="816.5" cy="268.1" rx="9.2" ry="5.6" transform="rotate(96 816.5 268.1)" fill="none" stroke="#0548c4" stroke-width="5.4"/><path d="M815.8,264.2 Q830.1,259.3 837.0,268.4" fill="none" stroke="#0548c4" stroke-width="7.4" stroke-linecap="butt"/><path d="M832.2,263.2 Q838.9,267.1 861.7,279.8" fill="none" stroke="#033aa4" stroke-width="7.5" stroke-linecap="butt"/><path d="M846.9,262.0 Q860.4,277.2 864.7,280.0" fill="none" stroke="#0548c4" stroke-width="8.5" stroke-linecap="butt"/><path d="M882.7,257.6 Q876.4,270.8 874.4,277.9" fill="none" stroke="#033aa4" stroke-width="6.7" stroke-linecap="butt"/><path d="M737.7,280.4 Q720.8,284.2 706.9,283.3" fill="none" stroke="#0548c4" stroke-width="7.2" stroke-linecap="butt"/><path d="M732.0,285.4 Q736.5,292.5 751.4,288.4" fill="none" stroke="#0548c4" stroke-width="2"/><path d="M743.5,271.4 Q747.0,277.9 756.5,293.4" fill="none" stroke="#0548c4" stroke-width="2"/><path d="M755.4,271.7 Q775.3,279.4 772.1,292.4" fill="none" stroke="#5ec2ee" stroke-width="2"/><path d="M795.1,280.0 Q778.8,294.5 776.6,293.4" fill="none" stroke="#0548c4" stroke-width="6.8" stroke-linecap="butt"/><ellipse cx="797.7" cy="280.9" rx="10.8" ry="5.0" transform="rotate(58 797.7 280.9)" fill="none" stroke="#0548c4" stroke-width="6.3"/><ellipse cx="810.0" cy="283.9" rx="9.3" ry="4.7" transform="rotate(87 810.0 283.9)" fill="none" stroke="#0548c4" stroke-width="5.1"/><path d="M820.5,276.0 Q825.4,287.8 844.6,282.0" fill="none" stroke="#5ec2ee" stroke-width="2"/><ellipse cx="846.3" cy="277.9" rx="8.3" ry="6.4" transform="rotate(145 846.3 277.9)" fill="none" stroke="#0548c4" stroke-width="6.3"/><path d="M874.0,270.9 Q867.8,271.8 877.6,291.0" fill="none" stroke="#0548c4" stroke-width="2"/><ellipse cx="887.7" cy="283.9" rx="9.1" ry="7.9" transform="rotate(56 887.7 283.9)" fill="none" stroke="#5ec2ee" stroke-width="5.0"/><path d="M911.6,272.7 Q905.2,293.8 889.1,297.3" fill="none" stroke="#0548c4" stroke-width="6.3" stroke-linecap="butt"/><path d="M747.7,285.9 Q740.3,291.6 729.2,310.5" fill="none" stroke="#0548c4" stroke-width="2"/><ellipse cx="755.8" cy="299.0" rx="9.8" ry="6.7" transform="rotate(118 755.8 299.0)" fill="none" stroke="#033aa4" stroke-width="5.7"/><ellipse cx="771.1" cy="295.2" rx="9.7" ry="7.1" transform="rotate(58 771.1 295.2)" fill="none" stroke="#0548c4" stroke-width="5.4"/><path d="M790.9,291.9 Q778.7,298.3 779.3,310.2" fill="none" stroke="#0548c4" stroke-width="7.3" stroke-linecap="butt"/><ellipse cx="801.9" cy="296.1" rx="10.7" ry="7.8" transform="rotate(73 801.9 296.1)" fill="none" stroke="#0548c4" stroke-width="5.4"/><path d="M822.6,291.0 Q822.4,295.4 799.9,313.2" fill="none" stroke="#0548c4" stroke-width="2"/><ellipse cx="825.5" cy="302.9" rx="11.4" ry="7.8" transform="rotate(32 825.5 302.9)" fill="none" stroke="#0548c4" stroke-width="5.6"/><ellipse cx="847.4" cy="294.2" rx="11.2" ry="5.2" transform="rotate(27 847.4 294.2)" fill="none" stroke="#0548c4" stroke-width="6.2"/><path d="M856.3,285.3 Q855.0,304.1 855.9,315.0" fill="none" stroke="#0548c4" stroke-width="2"/><ellipse cx="871.5" cy="293.9" rx="8.2" ry="6.7" transform="rotate(108 871.5 293.9)" fill="none" stroke="#0548c4" stroke-width="5.9"/><path d="M878.3,289.8 Q889.1,301.4 906.5,304.4" fill="none" stroke="#0548c4" stroke-width="9.0" stroke-linecap="butt"/><ellipse cx="907.2" cy="294.2" rx="12.2" ry="6.8" transform="rotate(178 907.2 294.2)" fill="none" stroke="#5ec2ee" stroke-width="6.9"/><path d="M918.9,290.3 Q923.6,293.8 918.2,309.2" fill="none" stroke="#5ec2ee" stroke-width="2"/><path d="M749.5,298.2 Q751.8,298.2 747.2,318.8" fill="none" stroke="#0548c4" stroke-width="2"/><path d="M767.5,296.9 Q774.4,318.1 768.5,329.6" fill="none" stroke="#0548c4" stroke-width="7.6" stroke-linecap="butt"/><path d="M774.8,305.1 Q779.7,318.3 792.0,314.0" fill="none" stroke="#0548c4" stroke-width="2"/><path d="M782.2,302.1 Q804.4,299.9 807.3,318.2" fill="none" stroke="#0548c4" stroke-width="2"/><path d="M822.1,305.1 Q820.5,316.3 810.9,331.0" fill="none" stroke="#0548c4" stroke-width="2"/><ellipse cx="832.6" cy="309.1" rx="9.4" ry="6.6" transform="rotate(57 832.6 309.1)" fill="none" stroke="#0548c4" stroke-width="6.4"/><ellipse cx="839.1" cy="317.6" rx="8.6" ry="4.9" transform="rotate(125 839.1 317.6)" fill="none" stroke="#0548c4" stroke-width="6.9"/><path d="M871.2,315.5 Q854.9,314.1 845.4,316.0" fill="none" stroke="#0548c4" stroke-width="6.4" stroke-linecap="butt"/><path d="M867.2,295.9 Q869.4,316.4 877.1,329.6" fill="none" stroke="#0548c4" stroke-width="6.7" stroke-linecap="butt"/><path d="M919.9,304.9 Q923.9,315.3 923.2,328.1" fill="none" stroke="#0548c4" stroke-width="2"/><ellipse cx="931.5" cy="312.6" rx="12.8" ry="5.5" transform="rotate(51 931.5 312.6)" fill="none" stroke="#0548c4" stroke-width="6.4"/><path d="M748.9,310.8 Q749.1,325.9 758.3,343.8" fill="none" stroke="#0548c4" stroke-width="7.0" stroke-linecap="butt"/><path d="M771.2,319.0 Q758.6,325.1 765.8,337.6" fill="none" stroke="#5ec2ee" stroke-width="2"/><ellipse cx="787.5" cy="331.3" rx="12.5" ry="7.8" transform="rotate(120 787.5 331.3)" fill="none" stroke="#0548c4" stroke-width="5.0"/><path d="M790.2,321.0 Q798.6,334.3 800.8,343.8" fill="none" stroke="#0548c4" stroke-width="8.9" stroke-linecap="butt"/><path d="M811.2,318.3 Q827.5,320.7 819.9,343.9" fill="none" stroke="#0548c4" stroke-width="2"/><ellipse cx="831.4" cy="327.4" rx="12.9" ry="5.2" transform="rotate(118 831.4 327.4)" fill="none" stroke="#0548c4" stroke-width="5.7"/><ellipse cx="847.5" cy="332.1" rx="8.8" ry="6.8" transform="rotate(134 847.5 332.1)" fill="none" stroke="#0548c4" stroke-width="6.2"/><path d="M862.6,321.8 Q886.1,315.9 890.5,332.9" fill="none" stroke="#5ec2ee" stroke-width="2"/><ellipse cx="891.3" cy="324.0" rx="10.5" ry="4.9" transform="rotate(20 891.3 324.0)" fill="none" stroke="#0548c4" stroke-width="6.1"/><path d="M924.8,318.3 Q906.6,321.8 904.4,335.4" fill="none" stroke="#0548c4" stroke-width="7.4" stroke-linecap="butt"/><path d="M951.1,321.9 Q929.9,338.0 921.1,337.1" fill="none" stroke="#0548c4" stroke-width="7.6" stroke-linecap="butt"/><ellipse cx="947.2" cy="332.7" rx="10.1" ry="4.5" transform="rotate(155 947.2 332.7)" fill="none" stroke="#033aa4" stroke-width="5.3"/><path d="M762.2,336.1 Q745.0,341.3 746.4,356.1" fill="none" stroke="#0548c4" stroke-width="2"/><path d="M782.9,333.2 Q766.6,329.4 761.7,344.2" fill="none" stroke="#0548c4" stroke-width="2"/><path d="M783.3,330.7 Q785.5,345.9 784.4,361.1" fill="none" stroke="#5ec2ee" stroke-width="2"/><path d="M789.1,333.8 Q793.8,342.0 801.8,351.2" fill="none" stroke="#0548c4" stroke-width="2"/><ellipse cx="808.6" cy="340.5" rx="12.2" ry="4.7" transform="rotate(81 808.6 340.5)" fill="none" stroke="#0548c4" stroke-width="6.1"/><path d="M817.1,331.1 Q823.7,339.2 837.0,347.8" fill="none" stroke="#0548c4" stroke-width="6.7" stroke-linecap="butt"/><path d="M823.3,347.1 Q832.1,349.2 858.7,348.1" fill="none" stroke="#0548c4" stroke-width="8.9" stroke-linecap="butt"/><ellipse cx="859.2" cy="343.6" rx="9.6" ry="6.2" transform="rotate(54 859.2 343.6)" fill="none" stroke="#0548c4" stroke-width="6.0"/><ellipse cx="907.4" cy="339.3" rx="11.4" ry="4.8" transform="rotate(155 907.4 339.3)" fill="none" stroke="#0548c4" stroke-width="7.0"/><path d="M912.6,333.9 Q909.8,352.4 928.4,358.3" fill="none" stroke="#0548c4" stroke-width="2"/><ellipse cx="930.2" cy="347.8" rx="11.2" ry="4.6" transform="rotate(99 930.2 347.8)" fill="none" stroke="#033aa4" stroke-width="6.9"/><path d="M933.2,343.0 Q949.7,351.9 959.8,343.5" fill="none" stroke="#0548c4" stroke-width="8.8" stroke-linecap="butt"/><ellipse cx="961.8" cy="343.5" rx="9.9" ry="6.1" transform="rotate(79 961.8 343.5)" fill="none" stroke="#0548c4" stroke-width="5.9"/><ellipse cx="769.1" cy="359.3" rx="8.6" ry="7.4" transform="rotate(132 769.1 359.3)" fill="none" stroke="#0548c4" stroke-width="6.3"/><path d="M764.1,354.5 Q781.6,368.5 797.0,367.3" fill="none" stroke="#0548c4" stroke-width="6.6" stroke-linecap="butt"/><ellipse cx="795.9" cy="353.8" rx="12.4" ry="6.2" transform="rotate(151 795.9 353.8)" fill="none" stroke="#0548c4" stroke-width="5.1"/><ellipse cx="810.6" cy="354.1" rx="10.5" ry="6.9" transform="rotate(121 810.6 354.1)" fill="none" stroke="#033aa4" stroke-width="5.8"/><path d="M835.0,350.6 Q819.5,358.5 814.7,371.9" fill="none" stroke="#0548c4" stroke-width="6.5" stroke-linecap="butt"/><ellipse cx="842.4" cy="362.7" rx="10.9" ry="7.4" transform="rotate(94 842.4 362.7)" fill="none" stroke="#0548c4" stroke-width="5.7"/><path d="M855.0,343.8 Q865.3,355.6 867.4,364.6" fill="none" stroke="#5ec2ee" stroke-width="6.8" stroke-linecap="butt"/><ellipse cx="878.8" cy="363.1" rx="10.8" ry="7.9" transform="rotate(129 878.8 363.1)" fill="none" stroke="#0548c4" stroke-width="6.8"/><ellipse cx="884.8" cy="362.8" rx="12.2" ry="4.6" transform="rotate(136 884.8 362.8)" fill="none" stroke="#0548c4" stroke-width="6.4"/><path d="M889.0,350.9 Q896.4,363.6 918.2,366.0" fill="none" stroke="#033aa4" stroke-width="6.7" stroke-linecap="butt"/><ellipse cx="924.2" cy="356.1" rx="11.8" ry="6.5" transform="rotate(110 924.2 356.1)" fill="none" stroke="#0548c4" stroke-width="6.8"/><path d="M929.1,350.3 Q943.5,368.5 940.7,375.8" fill="none" stroke="#0548c4" stroke-width="2"/><ellipse cx="952.1" cy="358.4" rx="9.3" ry="5.5" transform="rotate(4 952.1 358.4)" fill="none" stroke="#0548c4" stroke-width="5.5"/><ellipse cx="766.9" cy="375.6" rx="9.4" ry="6.3" transform="rotate(49 766.9 375.6)" fill="none" stroke="#0548c4" stroke-width="6.7"/><ellipse cx="782.3" cy="371.5" rx="10.7" ry="7.1" transform="rotate(154 782.3 371.5)" fill="none" stroke="#0548c4" stroke-width="6.1"/><path d="M806.7,366.3 Q806.6,370.6 790.8,379.9" fill="none" stroke="#0548c4" stroke-width="8.4" stroke-linecap="butt"/><ellipse cx="815.9" cy="374.2" rx="12.7" ry="6.3" transform="rotate(67 815.9 374.2)" fill="none" stroke="#0548c4" stroke-width="6.1"/><ellipse cx="833.3" cy="378.4" rx="12.7" ry="6.8" transform="rotate(171 833.3 378.4)" fill="none" stroke="#0548c4" stroke-width="5.1"/><path d="M849.1,355.7 Q854.8,360.8 842.6,386.9" fill="none" stroke="#0548c4" stroke-width="2"/><ellipse cx="876.7" cy="375.1" rx="12.3" ry="7.2" transform="rotate(177 876.7 375.1)" fill="none" stroke="#0548c4" stroke-width="6.0"/><ellipse cx="887.7" cy="371.6" rx="9.0" ry="7.0" transform="rotate(95 887.7 371.6)" fill="none" stroke="#0548c4" stroke-width="5.8"/><ellipse cx="920.4" cy="375.2" rx="8.7" ry="5.6" transform="rotate(175 920.4 375.2)" fill="none" stroke="#0548c4" stroke-width="5.7"/><path d="M780.7,389.6 Q769.8,398.7 746.0,392.2" fill="none" stroke="#033aa4" stroke-width="6.1" stroke-linecap="butt"/><ellipse cx="783.2" cy="390.4" rx="11.1" ry="7.8" transform="rotate(123 783.2 390.4)" fill="none" stroke="#0548c4" stroke-width="5.2"/><path d="M779.8,387.2 Q804.9,380.3 813.5,390.6" fill="none" stroke="#0548c4" stroke-width="6.1" stroke-linecap="butt"/><path d="M811.1,373.3 Q798.2,377.2 809.3,401.8" fill="none" stroke="#5ec2ee" stroke-width="2"/><path d="M841.7,386.1 Q828.0,383.8 819.8,398.8" fill="none" stroke="#0548c4" stroke-width="8.3" stroke-linecap="butt"/><ellipse cx="839.2" cy="385.3" rx="11.4" ry="6.1" transform="rotate(95 839.2 385.3)" fill="none" stroke="#0548c4" stroke-width="5.5"/><path d="M850.8,384.7 Q857.8,384.1 872.8,395.9" fill="none" stroke="#5ec2ee" stroke-width="2"/><path d="M877.8,369.3 Q870.9,381.4 875.4,403.2" fill="none" stroke="#0548c4" stroke-width="6.9" stroke-linecap="butt"/><ellipse cx="888.3" cy="386.7" rx="10.7" ry="4.8" transform="rotate(121 888.3 386.7)" fill="none" stroke="#0548c4" stroke-width="6.5"/><ellipse cx="907.4" cy="387.8" rx="9.9" ry="5.7" transform="rotate(75 907.4 387.8)" fill="none" stroke="#033aa4" stroke-width="6.8"/><path d="M907.9,388.0 Q928.0,391.1 934.2,400.0" fill="none" stroke="#0548c4" stroke-width="2"/><ellipse cx="770.3" cy="400.1" rx="12.1" ry="4.5" transform="rotate(133 770.3 400.1)" fill="none" stroke="#0548c4" stroke-width="6.0"/><path d="M781.2,392.9 Q789.9,412.7 806.3,411.8" fill="none" stroke="#5ec2ee" stroke-width="2"/><ellipse cx="815.3" cy="406.2" rx="8.7" ry="6.9" transform="rotate(170 815.3 406.2)" fill="none" stroke="#0548c4" stroke-width="6.8"/><path d="M824.5,389.9 Q822.0,408.6 827.7,411.6" fill="none" stroke="#0548c4" stroke-width="6.2" stroke-linecap="butt"/><ellipse cx="842.1" cy="406.6" rx="8.9" ry="4.9" transform="rotate(9 842.1 406.6)" fill="none" stroke="#0548c4" stroke-width="6.1"/><path d="M870.3,388.5 Q849.8,395.5 844.5,412.4" fill="none" stroke="#0548c4" stroke-width="6.2" stroke-linecap="butt"/><ellipse cx="876.0" cy="405.0" rx="8.8" ry="5.7" transform="rotate(166 876.0 405.0)" fill="none" stroke="#0548c4" stroke-width="6.1"/><ellipse cx="893.3" cy="408.7" rx="11.0" ry="7.5" transform="rotate(175 893.3 408.7)" fill="none" stroke="#0548c4" stroke-width="5.9"/><ellipse cx="908.4" cy="403.7" rx="11.8" ry="5.9" transform="rotate(176 908.4 403.7)" fill="none" stroke="#0548c4" stroke-width="5.1"/><ellipse cx="922.5" cy="402.3" rx="8.1" ry="5.3" transform="rotate(133 922.5 402.3)" fill="none" stroke="#0548c4" stroke-width="6.6"/><ellipse cx="770.9" cy="420.1" rx="8.1" ry="5.6" transform="rotate(84 770.9 420.1)" fill="none" stroke="#0548c4" stroke-width="5.1"/><ellipse cx="779.5" cy="422.1" rx="11.1" ry="5.6" transform="rotate(66 779.5 422.1)" fill="none" stroke="#0548c4" stroke-width="5.7"/><path d="M798.6,405.5 Q811.6,410.9 804.9,429.1" fill="none" stroke="#0548c4" stroke-width="2"/><path d="M820.0,415.1 Q803.2,411.8 796.6,424.2" fill="none" stroke="#5ec2ee" stroke-width="2"/><path d="M833.3,403.2 Q824.9,412.9 824.2,437.2" fill="none" stroke="#0548c4" stroke-width="8.1" stroke-linecap="butt"/><ellipse cx="848.2" cy="421.0" rx="10.6" ry="5.8" transform="rotate(90 848.2 421.0)" fill="none" stroke="#033aa4" stroke-width="5.0"/><ellipse cx="861.7" cy="415.1" rx="10.3" ry="4.8" transform="rotate(103 861.7 415.1)" fill="none" stroke="#0548c4" stroke-width="6.0"/><ellipse cx="874.4" cy="422.4" rx="10.2" ry="4.8" transform="rotate(175 874.4 422.4)" fill="none" stroke="#0548c4" stroke-width="6.6"/><ellipse cx="884.9" cy="415.3" rx="12.5" ry="6.3" transform="rotate(144 884.9 415.3)" fill="none" stroke="#0548c4" stroke-width="5.9"/><path d="M906.3,411.2 Q912.8,423.5 907.1,435.8" fill="none" stroke="#0548c4" stroke-width="7.0" stroke-linecap="butt"/><ellipse cx="915.3" cy="420.8" rx="12.9" ry="7.7" transform="rotate(150 915.3 420.8)" fill="none" stroke="#033aa4" stroke-width="6.4"/><path d="M779.1,430.4 Q775.4,433.2 760.3,443.2" fill="none" stroke="#033aa4" stroke-width="6.7" stroke-linecap="butt"/><path d="M814.9,425.8 Q808.9,439.0 787.4,446.9" fill="none" stroke="#0548c4" stroke-width="6.2" stroke-linecap="butt"/><path d="M829.1,437.1 Q811.0,441.3 804.2,438.5" fill="none" stroke="#033aa4" stroke-width="8.3" stroke-linecap="butt"/><path d="M822.9,435.0 Q838.1,445.4 840.3,442.2" fill="none" stroke="#5ec2ee" stroke-width="2"/><path d="M860.3,433.9 Q844.6,424.7 835.8,438.3" fill="none" stroke="#0548c4" stroke-width="2"/><ellipse cx="858.9" cy="436.8" rx="11.9" ry="6.9" transform="rotate(41 858.9 436.8)" fill="none" stroke="#0548c4" stroke-width="6.0"/><ellipse cx="876.9" cy="433.9" rx="11.4" ry="7.8" transform="rotate(34 876.9 433.9)" fill="none" stroke="#0548c4" stroke-width="5.7"/><path d="M880.1,420.6 Q894.9,427.2 896.5,441.7" fill="none" stroke="#5ec2ee" stroke-width="2"/><ellipse cx="762.9" cy="446.0" rx="12.3" ry="6.4" transform="rotate(88 762.9 446.0)" fill="none" stroke="#0548c4" stroke-width="5.9"/><path d="M769.9,440.1 Q776.4,439.3 789.2,454.1" fill="none" stroke="#0548c4" stroke-width="6.2" stroke-linecap="butt"/><ellipse cx="795.3" cy="452.1" rx="10.1" ry="5.9" transform="rotate(171 795.3 452.1)" fill="none" stroke="#0548c4" stroke-width="5.5"/><ellipse cx="814.0" cy="447.1" rx="11.4" ry="7.2" transform="rotate(22 814.0 447.1)" fill="none" stroke="#0548c4" stroke-width="6.1"/><path d="M838.8,443.4 Q834.1,448.2 811.5,452.0" fill="none" stroke="#0548c4" stroke-width="6.6" stroke-linecap="butt"/><ellipse cx="856.8" cy="450.4" rx="11.6" ry="5.6" transform="rotate(49 856.8 450.4)" fill="none" stroke="#0548c4" stroke-width="6.5"/><path d="M875.6,438.9 Q876.6,457.9 878.5,460.4" fill="none" stroke="#0548c4" stroke-width="8.7" stroke-linecap="butt"/><ellipse cx="784.8" cy="466.2" rx="10.1" ry="6.5" transform="rotate(79 784.8 466.2)" fill="none" stroke="#0548c4" stroke-width="6.5"/><ellipse cx="794.5" cy="461.7" rx="8.2" ry="7.0" transform="rotate(123 794.5 461.7)" fill="none" stroke="#0548c4" stroke-width="5.3"/><ellipse cx="811.3" cy="462.7" rx="10.0" ry="6.1" transform="rotate(3 811.3 462.7)" fill="none" stroke="#0548c4" stroke-width="5.2"/><path d="M831.5,454.1 Q822.9,460.6 832.5,476.5" fill="none" stroke="#5ec2ee" stroke-width="2"/><ellipse cx="844.9" cy="470.0" rx="10.0" ry="7.6" transform="rotate(92 844.9 470.0)" fill="none" stroke="#0548c4" stroke-width="5.5"/><path d="M854.2,452.1 Q855.5,462.1 858.5,478.8" fill="none" stroke="#0548c4" stroke-width="7.9" stroke-linecap="butt"/><ellipse cx="870.4" cy="467.8" rx="10.4" ry="7.6" transform="rotate(139 870.4 467.8)" fill="none" stroke="#0548c4" stroke-width="5.9"/><ellipse cx="854.8" cy="479.2" rx="10.0" ry="6.8" transform="rotate(176 854.8 479.2)" fill="none" stroke="#0548c4" stroke-width="6.5"/><ellipse cx="873.5" cy="485.0" rx="11.3" ry="6.0" transform="rotate(171 873.5 485.0)" fill="none" stroke="#0548c4" stroke-width="6.3"/><ellipse cx="860.5" cy="497.6" rx="9.7" ry="7.0" transform="rotate(97 860.5 497.6)" fill="none" stroke="#033aa4" stroke-width="5.0"/><ellipse cx="800.7" cy="173.8" rx="6.3" ry="15.5" transform="rotate(-41.8 800.7 173.8)" fill="none" stroke="#0548c4" stroke-width="5.5"/><ellipse cx="810.1" cy="165.4" rx="6.3" ry="15.5" transform="rotate(-41.8 810.1 165.4)" fill="none" stroke="#0548c4" stroke-width="5.5"/><ellipse cx="819.5" cy="157.0" rx="6.3" ry="15.5" transform="rotate(-41.8 819.5 157.0)" fill="none" stroke="#0548c4" stroke-width="5.5"/><ellipse cx="828.9" cy="148.6" rx="6.3" ry="15.5" transform="rotate(-41.8 828.9 148.6)" fill="none" stroke="#0548c4" stroke-width="5.5"/><ellipse cx="838.3" cy="140.2" rx="6.3" ry="15.5" transform="rotate(-41.8 838.3 140.2)" fill="none" stroke="#0548c4" stroke-width="5.5"/><path d="M727,174 C723,200 723,232 729,262" fill="none" stroke="#0548c4" stroke-width="11"/><path d="M723.0,220.0 L705.0,203.0 L686.0,203.0 L678.0,210.0 L679.0,228.0 L684.0,238.0 L706.0,243.0 L727.0,255.0" fill="none" stroke="#5ec2ee" stroke-width="2" stroke-linejoin="round"/><path d="M679.0,228.0 L684.0,238.0 L706.0,243.0 L727.0,255.0" fill="none" stroke="#0548c4" stroke-width="2.2"/><path d="M905,198 C915,190 930,186 940,190 C952,196 946,210 955,218 C965,226 968,238 955,244" fill="none" stroke="#0548c4" stroke-width="8"/><path d="M955,244 C948,252 952,262 958,270 C960,280 945,284 935,282 C925,280 920,288 922,296" fill="none" stroke="#0548c4" stroke-width="2.2"/><path d="M937,276 C945,286 952,292 950,300" fill="none" stroke="#0548c4" stroke-width="6"/><path d="M905,240 C915,250 925,262 930,275" fill="none" stroke="#0548c4" stroke-width="2.2"/><ellipse cx="936.3" cy="334.7" rx="6.3" ry="14.0" transform="rotate(-3.0 936.3 334.7)" fill="none" stroke="#0548c4" stroke-width="5"/><ellipse cx="949.0" cy="334.0" rx="6.3" ry="14.0" transform="rotate(-3.0 949.0 334.0)" fill="none" stroke="#0548c4" stroke-width="5"/><ellipse cx="961.7" cy="333.3" rx="6.3" ry="14.0" transform="rotate(-3.0 961.7 333.3)" fill="none" stroke="#0548c4" stroke-width="5"/><path d="M975.0,410.0 L987.0,378.0 L999.0,387.0 L996.0,405.0 L985.0,423.0 L970.0,432.0" fill="none" stroke="#0548c4" stroke-width="5" stroke-linejoin="round"/><path d="M915.0,420.0 L945.0,425.0 L970.0,432.0 L968.0,441.0" fill="none" stroke="#0548c4" stroke-width="2.2"/><path d="M930,395 C955,400 975,410 985,423" fill="none" stroke="#0548c4" stroke-width="2.2"/><path d="M908.0,430.0 L888.0,465.0 L872.0,497.0" fill="none" stroke="#0548c4" stroke-width="10"/><path d="M872.0,497.0 L864.0,518.0 L854.0,488.0" fill="none" stroke="#5ec2ee" stroke-width="2.2"/><path d="M813,435 C812,445 815,460 818,470" fill="none" stroke="#5ec2ee" stroke-width="8"/><path d="M751,125 C748,133 742,136 741,139" fill="none" stroke="#f5d21a" stroke-width="2"/><path d="M741,139 C738,146 752,150 750,162 C748,168 735,170 729,174" fill="none" stroke="#5ec2ee" stroke-width="2"/><path d="M752,103 C760,100 767,108 766,116 C765,121 760,124 755,126" fill="none" stroke="#f5d21a" stroke-width="7"/><path d="M722,88 C728,98 738,96 744,95 C748,94 751,97 753,102" fill="none" stroke="#f07a45" stroke-width="7"/><path d="M724,83 L722,92" stroke="#f07a45" stroke-width="2"/><path d="M730,300 C735,305 740,305 742,300" fill="none" stroke="#f5d21a" stroke-width="1.8"/><path d="M963,462 L972,540 L983,603" fill="none" stroke="#033aa4" stroke-width="7"/><ellipse cx="952.8" cy="460.4" rx="15.0" ry="8.3" fill="none" stroke="#0548c4" stroke-width="7" transform="rotate(6 952.8 460.4)"/><ellipse cx="955.7" cy="482.2" rx="14.6" ry="8.3" fill="none" stroke="#0548c4" stroke-width="7" transform="rotate(6 955.7 482.2)"/><ellipse cx="958.5" cy="502.2" rx="14.3" ry="8.3" fill="none" stroke="#0548c4" stroke-width="7" transform="rotate(6 958.5 502.2)"/><ellipse cx="961.1" cy="521.2" rx="13.9" ry="8.3" fill="none" stroke="#0548c4" stroke-width="7" transform="rotate(6 961.1 521.2)"/><ellipse cx="963.5" cy="539.2" rx="13.6" ry="8.3" fill="none" stroke="#0548c4" stroke-width="7" transform="rotate(6 963.5 539.2)"/><ellipse cx="965.9" cy="556.3" rx="13.3" ry="8.3" fill="none" stroke="#0548c4" stroke-width="7" transform="rotate(6 965.9 556.3)"/><ellipse cx="968.3" cy="574.3" rx="13.0" ry="8.3" fill="none" stroke="#0548c4" stroke-width="7" transform="rotate(6 968.3 574.3)"/><ellipse cx="970.7" cy="591.4" rx="12.7" ry="8.3" fill="none" stroke="#0548c4" stroke-width="7" transform="rotate(6 970.7 591.4)"/><ellipse cx="972.9" cy="607.6" rx="12.4" ry="8.3" fill="none" stroke="#0548c4" stroke-width="7" transform="rotate(6 972.9 607.6)"/><ellipse cx="976.5" cy="624.5" rx="11" ry="6.5" fill="none" stroke="#5ec2ee" stroke-width="5"/><path d="M912,428 C930,432 940,442 945,452" fill="none" stroke="#0548c4" stroke-width="2.2"/><circle cx="968" cy="440" r="5" fill="#0548c4"/>
<text x="781.21" y="561.30" font-size="23.5" textLength="138.78" lengthAdjust="spacingAndGlyphs" fill="#111">Cytochrome</text>
<text x="780.93" y="591.30" font-size="23.5" textLength="109.44" lengthAdjust="spacingAndGlyphs" fill="#111">P450 4C1</text>
<text x="781.49" y="620.80" font-size="23.5" textLength="129.21" lengthAdjust="spacingAndGlyphs" fill="#111">as example</text>
<text x="-0.53" y="762.00" font-size="32" font-weight="bold" textLength="21.34" lengthAdjust="spacingAndGlyphs" fill="#000">c</text>
<path d="M102.4,762.9 V1382.4 H603" fill="none" stroke="#141414" stroke-width="1.4"/>
<path d="M93.0,901.5 H102.4" stroke="#141414" stroke-width="1.4"/>
<path d="M93.0,1116.9 H102.4" stroke="#141414" stroke-width="1.4"/>
<path d="M93.0,1332.4 H102.4" stroke="#141414" stroke-width="1.4"/>
<path d="M150.8,1382.4 V1392.4" stroke="#141414" stroke-width="1.4"/>
<path d="M231.8,1382.4 V1392.4" stroke="#141414" stroke-width="1.4"/>
<path d="M313.1,1382.4 V1392.4" stroke="#141414" stroke-width="1.4"/>
<path d="M394.8,1382.4 V1392.4" stroke="#141414" stroke-width="1.4"/>
<path d="M476.1,1382.4 V1392.4" stroke="#141414" stroke-width="1.4"/>
<path d="M557.2,1382.4 V1392.4" stroke="#141414" stroke-width="1.4"/>
<text x="52.84" y="909.80" font-size="23.5" textLength="27.97" lengthAdjust="spacingAndGlyphs" fill="#111">50</text>
<text x="52.84" y="1125.20" font-size="23.5" textLength="27.97" lengthAdjust="spacingAndGlyphs" fill="#111">40</text>
<text x="52.84" y="1340.70" font-size="23.5" textLength="27.97" lengthAdjust="spacingAndGlyphs" fill="#111">30</text>
<text x="138.73" y="1420.70" font-size="23.5" textLength="23.75" lengthAdjust="spacingAndGlyphs" fill="#111">Di</text>
<text x="215.33" y="1420.70" font-size="23.5" textLength="32.14" lengthAdjust="spacingAndGlyphs" fill="#111">He</text>
<text x="296.88" y="1420.70" font-size="23.5" textLength="32.14" lengthAdjust="spacingAndGlyphs" fill="#111">Co</text>
<text x="380.34" y="1420.70" font-size="23.5" textLength="27.97" lengthAdjust="spacingAndGlyphs" fill="#111">Le</text>
<text x="459.76" y="1420.70" font-size="23.5" textLength="30.73" lengthAdjust="spacingAndGlyphs" fill="#111">Hy</text>
<text x="542.74" y="1420.70" font-size="23.5" textLength="27.93" lengthAdjust="spacingAndGlyphs" fill="#111">Or</text>
<path d="M134.2,772.3 L138.4,771.2 L143.6,773.3 L147.8,778.5 L154.0,783.7 L159.2,791.0 L170.7,790.0 L179.0,791.0 L188.3,794.5 L183.1,803.5 L188.3,808.7 L177.9,808.7 L166.5,812.8 L161.3,816.0 L159.2,823.2 L154.0,829.5 L149.8,835.7 L151.9,839.9 L156.1,848.2 L158.2,853.4 L166.5,855.5 L168.6,859.7 L174.8,858.6 L183.1,854.0 L182.7,867.0 L193.5,867.4 L200.8,881.5 L197.7,894.0 L199.4,906.5 L195.6,913.8 L199.8,916.9 L192.5,924.2 L190.4,933.5 L186.3,935.2 L179.0,930.4 L170.7,923.1 L145.7,910.7 L133.2,902.3 L127.0,894.0 L120.7,881.5 L112.4,867.0 L102.0,844.1 L95.7,835.7 L91.6,829.5 L81.2,824.3 L79.1,817.0 L78.7,808.7 L83.2,802.4 L89.1,800.4 L88.4,808.7 L95.7,811.8 L100.9,814.9 L104.1,810.8 L107.2,801.4 L114.5,796.2 L124.9,792.0 L133.2,785.8 L136.3,778.5 Z" fill="#c0c0c0" stroke="#222" stroke-width="1.3" stroke-linejoin="round"/><text x="138.25" y="886.70" font-size="20.5" textLength="43.64" lengthAdjust="spacingAndGlyphs" fill="#111">Peru</text>
<path d="M152.30,966.30 C152.48,968.27 152.87,973.12 153.40,978.10 C153.93,983.08 154.73,990.18 155.50,996.20 C156.27,1002.22 156.72,1008.18 158.00,1014.20 C159.28,1020.22 161.07,1026.27 163.20,1032.30 C165.33,1038.33 168.47,1044.37 170.80,1050.40 C173.13,1056.43 175.72,1062.47 177.20,1068.50 C178.68,1074.53 179.48,1080.57 179.70,1086.60 C179.92,1092.63 179.27,1098.68 178.50,1104.70 C177.73,1110.72 175.82,1116.82 175.10,1122.70 C174.38,1128.58 174.47,1133.02 174.20,1140.00 C173.93,1146.98 174.12,1156.40 173.50,1164.60 C172.88,1172.80 171.73,1181.00 170.50,1189.20 C169.27,1197.40 167.42,1205.60 166.10,1213.80 C164.78,1222.00 164.08,1230.20 162.60,1238.40 C161.12,1246.60 158.60,1256.85 157.20,1263.00 C155.80,1269.15 155.03,1271.20 154.20,1275.30 C153.37,1279.40 152.62,1283.48 152.20,1287.60 C151.78,1291.72 151.80,1288.93 151.70,1300.00 C151.60,1311.07 151.62,1345.00 151.60,1354.00 L149.60,1354.00 C149.58,1345.00 149.60,1311.07 149.50,1300.00 C149.40,1288.93 149.42,1291.72 149.00,1287.60 C148.58,1283.48 147.83,1279.40 147.00,1275.30 C146.17,1271.20 145.40,1269.15 144.00,1263.00 C142.60,1256.85 140.08,1246.60 138.60,1238.40 C137.12,1230.20 136.42,1222.00 135.10,1213.80 C133.78,1205.60 131.93,1197.40 130.70,1189.20 C129.47,1181.00 128.32,1172.80 127.70,1164.60 C127.08,1156.40 127.27,1146.98 127.00,1140.00 C126.73,1133.02 126.82,1128.58 126.10,1122.70 C125.38,1116.82 123.47,1110.72 122.70,1104.70 C121.93,1098.68 121.28,1092.63 121.50,1086.60 C121.72,1080.57 122.52,1074.53 124.00,1068.50 C125.48,1062.47 128.07,1056.43 130.40,1050.40 C132.73,1044.37 135.87,1038.33 138.00,1032.30 C140.13,1026.27 141.92,1020.22 143.20,1014.20 C144.48,1008.18 144.93,1002.22 145.70,996.20 C146.47,990.18 147.27,983.08 147.80,978.10 C148.33,973.12 148.72,968.27 148.90,966.30 Z" fill="#797c66" stroke="#333333" stroke-width="2.0" stroke-linejoin="round"/>
<path d="M234.10,923.00 C234.48,925.02 235.60,930.30 236.40,935.10 C237.20,939.90 238.23,944.83 238.90,951.80 C239.57,958.77 240.10,969.93 240.40,976.90 C240.70,983.87 240.70,988.02 240.70,993.60 C240.70,999.18 240.27,1004.82 240.40,1010.40 C240.53,1015.98 240.80,1021.53 241.50,1027.10 C242.20,1032.67 243.25,1038.22 244.60,1043.80 C245.95,1049.38 247.93,1055.02 249.60,1060.60 C251.27,1066.18 253.20,1071.73 254.60,1077.30 C256.00,1082.87 257.08,1088.43 258.00,1094.00 C258.92,1099.57 259.65,1105.12 260.10,1110.70 C260.55,1116.28 260.57,1122.62 260.70,1127.50 C260.83,1132.38 261.48,1133.82 260.90,1140.00 C260.32,1146.18 258.98,1156.40 257.20,1164.60 C255.42,1172.80 252.55,1181.00 250.20,1189.20 C247.85,1197.40 245.30,1205.60 243.10,1213.80 C240.90,1222.00 238.37,1232.25 237.00,1238.40 C235.63,1244.55 235.40,1245.98 234.90,1250.70 C234.40,1255.42 234.15,1264.03 234.00,1266.70 L229.60,1266.70 C229.45,1264.03 229.20,1255.42 228.70,1250.70 C228.20,1245.98 227.97,1244.55 226.60,1238.40 C225.23,1232.25 222.70,1222.00 220.50,1213.80 C218.30,1205.60 215.75,1197.40 213.40,1189.20 C211.05,1181.00 208.18,1172.80 206.40,1164.60 C204.62,1156.40 203.28,1146.18 202.70,1140.00 C202.12,1133.82 202.77,1132.38 202.90,1127.50 C203.03,1122.62 203.05,1116.28 203.50,1110.70 C203.95,1105.12 204.68,1099.57 205.60,1094.00 C206.52,1088.43 207.60,1082.87 209.00,1077.30 C210.40,1071.73 212.33,1066.18 214.00,1060.60 C215.67,1055.02 217.65,1049.38 219.00,1043.80 C220.35,1038.22 221.40,1032.67 222.10,1027.10 C222.80,1021.53 223.07,1015.98 223.20,1010.40 C223.33,1004.82 222.90,999.18 222.90,993.60 C222.90,988.02 222.90,983.87 223.20,976.90 C223.50,969.93 224.03,958.77 224.70,951.80 C225.37,944.83 226.40,939.90 227.20,935.10 C228.00,930.30 229.12,925.02 229.50,923.00 Z" fill="#a6ae7f" stroke="#333333" stroke-width="2.0" stroke-linejoin="round"/>
<path d="M313.75,814.70 C313.75,825.58 313.75,864.85 313.75,880.00 C313.75,895.15 313.52,897.78 313.75,905.60 C313.98,913.42 314.36,918.05 315.10,926.90 C315.84,935.75 317.23,948.08 318.20,958.70 C319.17,969.32 319.62,981.73 320.90,990.60 C322.18,999.47 323.65,1004.82 325.90,1011.90 C328.15,1018.98 331.57,1026.02 334.40,1033.10 C337.23,1040.18 340.60,1047.32 342.90,1054.40 C345.20,1061.48 347.17,1070.30 348.20,1075.60 C349.23,1080.90 349.53,1080.88 349.10,1086.20 C348.67,1091.52 347.27,1101.53 345.60,1107.50 C343.93,1113.47 341.20,1116.58 339.10,1122.00 C337.00,1127.42 335.18,1132.90 333.00,1140.00 C330.82,1147.10 327.63,1156.40 326.00,1164.60 C324.37,1172.80 323.98,1181.00 323.20,1189.20 C322.42,1197.40 322.43,1205.60 321.30,1213.80 C320.17,1222.00 317.57,1232.25 316.40,1238.40 C315.23,1244.55 314.72,1247.10 314.30,1250.70 C313.88,1254.30 313.99,1257.33 313.90,1260.00 C313.81,1262.67 313.77,1265.58 313.75,1266.70 L312.45,1266.70 C312.43,1265.58 312.39,1262.67 312.30,1260.00 C312.21,1257.33 312.32,1254.30 311.90,1250.70 C311.48,1247.10 310.97,1244.55 309.80,1238.40 C308.63,1232.25 306.03,1222.00 304.90,1213.80 C303.77,1205.60 303.78,1197.40 303.00,1189.20 C302.22,1181.00 301.83,1172.80 300.20,1164.60 C298.57,1156.40 295.38,1147.10 293.20,1140.00 C291.02,1132.90 289.20,1127.42 287.10,1122.00 C285.00,1116.58 282.27,1113.47 280.60,1107.50 C278.93,1101.53 277.53,1091.52 277.10,1086.20 C276.67,1080.88 276.97,1080.90 278.00,1075.60 C279.03,1070.30 281.00,1061.48 283.30,1054.40 C285.60,1047.32 288.97,1040.18 291.80,1033.10 C294.63,1026.02 298.05,1018.98 300.30,1011.90 C302.55,1004.82 304.02,999.47 305.30,990.60 C306.58,981.73 307.03,969.32 308.00,958.70 C308.97,948.08 310.36,935.75 311.10,926.90 C311.84,918.05 312.23,913.42 312.45,905.60 C312.68,897.78 312.45,895.15 312.45,880.00 C312.45,864.85 312.45,825.58 312.45,814.70 Z" fill="#d3c29a" stroke="#333333" stroke-width="2.0" stroke-linejoin="round"/>
<path d="M398.00,923.30 C398.65,925.75 400.55,933.22 401.90,938.00 C403.25,942.78 404.70,947.32 406.10,952.00 C407.50,956.68 409.02,961.42 410.30,966.10 C411.58,970.78 412.90,975.43 413.80,980.10 C414.70,984.77 415.25,989.43 415.70,994.10 C416.15,998.77 416.35,1003.43 416.50,1008.10 C416.65,1012.77 416.60,1017.43 416.60,1022.10 C416.60,1026.77 416.48,1031.42 416.50,1036.10 C416.52,1040.78 416.53,1045.52 416.70,1050.20 C416.87,1054.88 417.17,1059.53 417.50,1064.20 C417.83,1068.87 418.37,1073.53 418.70,1078.20 C419.03,1082.87 419.35,1087.53 419.50,1092.20 C419.65,1096.87 419.77,1101.53 419.60,1106.20 C419.43,1110.87 419.07,1115.53 418.50,1120.20 C417.93,1124.87 417.17,1129.52 416.20,1134.20 C415.23,1138.88 413.87,1143.62 412.70,1148.30 C411.53,1152.98 410.35,1157.63 409.20,1162.30 C408.05,1166.97 406.78,1171.63 405.80,1176.30 C404.82,1180.97 403.95,1185.80 403.30,1190.30 C402.65,1194.80 402.13,1201.13 401.90,1203.30 L387.70,1203.30 C387.47,1201.13 386.95,1194.80 386.30,1190.30 C385.65,1185.80 384.78,1180.97 383.80,1176.30 C382.82,1171.63 381.55,1166.97 380.40,1162.30 C379.25,1157.63 378.07,1152.98 376.90,1148.30 C375.73,1143.62 374.37,1138.88 373.40,1134.20 C372.43,1129.52 371.67,1124.87 371.10,1120.20 C370.53,1115.53 370.17,1110.87 370.00,1106.20 C369.83,1101.53 369.95,1096.87 370.10,1092.20 C370.25,1087.53 370.57,1082.87 370.90,1078.20 C371.23,1073.53 371.77,1068.87 372.10,1064.20 C372.43,1059.53 372.73,1054.88 372.90,1050.20 C373.07,1045.52 373.08,1040.78 373.10,1036.10 C373.12,1031.42 373.00,1026.77 373.00,1022.10 C373.00,1017.43 372.95,1012.77 373.10,1008.10 C373.25,1003.43 373.45,998.77 373.90,994.10 C374.35,989.43 374.90,984.77 375.80,980.10 C376.70,975.43 378.02,970.78 379.30,966.10 C380.58,961.42 382.10,956.68 383.50,952.00 C384.90,947.32 386.35,942.78 387.70,938.00 C389.05,933.22 390.95,925.75 391.60,923.30 Z" fill="#cfae9f" stroke="#333333" stroke-width="2.0" stroke-linejoin="round"/>
<path d="M476.75,794.40 C476.82,796.87 476.94,802.63 477.20,809.20 C477.46,815.77 477.77,825.60 478.30,833.80 C478.83,842.00 479.50,850.20 480.40,858.40 C481.30,866.60 482.63,874.80 483.70,883.00 C484.77,891.20 485.53,899.40 486.80,907.60 C488.07,915.80 489.33,924.00 491.30,932.20 C493.27,940.40 496.77,948.60 498.60,956.80 C500.43,965.00 501.73,973.20 502.30,981.40 C502.87,989.60 502.22,999.55 502.00,1006.00 C501.78,1012.45 501.50,1013.83 501.00,1020.10 C500.50,1026.37 500.23,1035.42 499.00,1043.60 C497.77,1051.78 495.33,1060.83 493.60,1069.20 C491.87,1077.57 490.02,1085.60 488.60,1093.80 C487.18,1102.00 485.82,1110.20 485.10,1118.40 C484.38,1126.60 484.70,1134.80 484.30,1143.00 C483.90,1151.20 483.18,1159.40 482.70,1167.60 C482.22,1175.80 481.95,1184.00 481.40,1192.20 C480.85,1200.40 480.03,1208.60 479.40,1216.80 C478.77,1225.00 478.04,1234.20 477.60,1241.40 C477.16,1248.60 476.89,1252.22 476.75,1260.00 C476.61,1267.78 476.75,1283.42 476.75,1288.10 L475.45,1288.10 C475.45,1283.42 475.59,1267.78 475.45,1260.00 C475.31,1252.22 475.04,1248.60 474.60,1241.40 C474.16,1234.20 473.43,1225.00 472.80,1216.80 C472.17,1208.60 471.35,1200.40 470.80,1192.20 C470.25,1184.00 469.98,1175.80 469.50,1167.60 C469.02,1159.40 468.30,1151.20 467.90,1143.00 C467.50,1134.80 467.82,1126.60 467.10,1118.40 C466.38,1110.20 465.02,1102.00 463.60,1093.80 C462.18,1085.60 460.33,1077.57 458.60,1069.20 C456.87,1060.83 454.43,1051.78 453.20,1043.60 C451.97,1035.42 451.70,1026.37 451.20,1020.10 C450.70,1013.83 450.42,1012.45 450.20,1006.00 C449.98,999.55 449.33,989.60 449.90,981.40 C450.47,973.20 451.77,965.00 453.60,956.80 C455.43,948.60 458.93,940.40 460.90,932.20 C462.87,924.00 464.13,915.80 465.40,907.60 C466.67,899.40 467.43,891.20 468.50,883.00 C469.57,874.80 470.90,866.60 471.80,858.40 C472.70,850.20 473.37,842.00 473.90,833.80 C474.43,825.60 474.74,815.77 475.00,809.20 C475.26,802.63 475.38,796.87 475.45,794.40 Z" fill="#fcc18b" stroke="#333333" stroke-width="2.0" stroke-linejoin="round"/>
<path d="M557.85,772.10 C557.85,777.58 557.79,798.02 557.85,805.00 C557.91,811.98 557.59,809.20 558.20,814.00 C558.81,818.80 560.25,826.40 561.50,833.80 C562.75,841.20 564.37,850.20 565.70,858.40 C567.03,866.60 568.47,874.80 569.50,883.00 C570.53,891.20 571.35,900.15 571.90,907.60 C572.45,915.05 572.48,920.95 572.80,927.70 C573.12,934.45 573.52,941.32 573.80,948.10 C574.08,954.88 574.27,961.62 574.50,968.40 C574.73,975.18 574.60,982.02 575.20,988.80 C575.80,995.58 577.12,1002.33 578.10,1009.10 C579.08,1015.87 580.43,1022.62 581.10,1029.40 C581.77,1036.18 582.27,1043.02 582.10,1049.80 C581.93,1056.58 581.28,1063.32 580.10,1070.10 C578.92,1076.88 576.70,1083.72 575.00,1090.50 C573.30,1097.28 571.42,1104.03 569.90,1110.80 C568.38,1117.57 567.08,1124.32 565.90,1131.10 C564.72,1137.88 563.70,1145.42 562.80,1151.50 C561.90,1157.58 561.10,1162.85 560.50,1167.60 C559.90,1172.35 559.60,1175.90 559.20,1180.00 C558.80,1184.10 558.32,1188.32 558.10,1192.20 C557.88,1196.08 557.93,1201.45 557.90,1203.30 L556.50,1203.30 C556.47,1201.45 556.52,1196.08 556.30,1192.20 C556.08,1188.32 555.60,1184.10 555.20,1180.00 C554.80,1175.90 554.50,1172.35 553.90,1167.60 C553.30,1162.85 552.50,1157.58 551.60,1151.50 C550.70,1145.42 549.68,1137.88 548.50,1131.10 C547.32,1124.32 546.02,1117.57 544.50,1110.80 C542.98,1104.03 541.10,1097.28 539.40,1090.50 C537.70,1083.72 535.48,1076.88 534.30,1070.10 C533.12,1063.32 532.47,1056.58 532.30,1049.80 C532.13,1043.02 532.63,1036.18 533.30,1029.40 C533.97,1022.62 535.32,1015.87 536.30,1009.10 C537.28,1002.33 538.60,995.58 539.20,988.80 C539.80,982.02 539.67,975.18 539.90,968.40 C540.13,961.62 540.32,954.88 540.60,948.10 C540.88,941.32 541.28,934.45 541.60,927.70 C541.92,920.95 541.95,915.05 542.50,907.60 C543.05,900.15 543.87,891.20 544.90,883.00 C545.93,874.80 547.37,866.60 548.70,858.40 C550.03,850.20 551.65,841.20 552.90,833.80 C554.15,826.40 555.59,818.80 556.20,814.00 C556.81,809.20 556.49,811.98 556.55,805.00 C556.61,798.02 556.55,777.58 556.55,772.10 Z" fill="#dd7b6e" stroke="#333333" stroke-width="2.0" stroke-linejoin="round"/>
<circle cx="150.6" cy="1132.3" r="7.9" fill="#000"/>
<path d="M231.8,1098.2 V1117.4" stroke="#000" stroke-width="2.5"/>
<circle cx="231.8" cy="1107.4" r="7.9" fill="#000"/>
<circle cx="313.1" cy="1088" r="7.9" fill="#000"/>
<path d="M394.8,1055.8 V1085.2" stroke="#000" stroke-width="2.5"/>
<circle cx="394.8" cy="1070.2" r="7.9" fill="#000"/>
<circle cx="476.1" cy="1022.9" r="7.9" fill="#000"/>
<path d="M557.2,993.8 V1023.3" stroke="#000" stroke-width="2.5"/>
<circle cx="557.2" cy="1007.7" r="7.9" fill="#000"/>
<g transform="rotate(-90)" fill="#111"><text x="-1129.35" y="25.90" font-size="24.5" textLength="33.22" lengthAdjust="spacingAndGlyphs" fill="#000">CT</text><text x="-1096.16" y="34.00" font-size="15.5" textLength="31.31" lengthAdjust="spacingAndGlyphs" fill="#000">max</text><text x="-1059.45" y="25.90" font-size="24.5" textLength="43.25" lengthAdjust="spacingAndGlyphs" fill="#000">(°C)</text></g>
<text x="640.47" y="762.00" font-size="32" font-weight="bold" textLength="23.35" lengthAdjust="spacingAndGlyphs" fill="#000">d</text>
<path d="M753.5,790.5 V1370.3 H1041.4" fill="none" stroke="#141414" stroke-width="1.4"/>
<path d="M744.0,874.1 H753.5" stroke="#141414" stroke-width="1.4"/>
<path d="M744.0,1003.7 H753.5" stroke="#141414" stroke-width="1.4"/>
<path d="M744.0,1133.9 H753.5" stroke="#141414" stroke-width="1.4"/>
<path d="M744.0,1263.5 H753.5" stroke="#141414" stroke-width="1.4"/>
<path d="M802.9,1370.3 V1380.3" stroke="#141414" stroke-width="1.4"/>
<path d="M887.6,1370.3 V1380.3" stroke="#141414" stroke-width="1.4"/>
<path d="M973.6,1370.3 V1380.3" stroke="#141414" stroke-width="1.4"/>
<text x="686.27" y="882.00" font-size="23.5" textLength="48.93" lengthAdjust="spacingAndGlyphs" fill="#111">45.0</text>
<text x="686.27" y="1011.60" font-size="23.5" textLength="48.93" lengthAdjust="spacingAndGlyphs" fill="#111">42.5</text>
<text x="686.27" y="1141.80" font-size="23.5" textLength="48.93" lengthAdjust="spacingAndGlyphs" fill="#111">40.0</text>
<text x="686.27" y="1271.40" font-size="23.5" textLength="48.93" lengthAdjust="spacingAndGlyphs" fill="#111">37.5</text>
<text x="789.20" y="1408.80" font-size="23.5" textLength="27.97" lengthAdjust="spacingAndGlyphs" fill="#111">43</text>
<text x="873.64" y="1408.80" font-size="23.5" textLength="27.97" lengthAdjust="spacingAndGlyphs" fill="#111">44</text>
<text x="959.77" y="1408.80" font-size="23.5" textLength="27.97" lengthAdjust="spacingAndGlyphs" fill="#111">45</text>
<circle cx="902.7" cy="777.9" r="11.8" fill="#000"/>
<circle cx="918.1" cy="821.3" r="12.6" fill="#000"/>
<circle cx="881" cy="904.9" r="8.1" fill="#000"/>
<circle cx="960.3" cy="941.2" r="13.8" fill="#000"/>
<circle cx="889.7" cy="988.6" r="7.9" fill="#000"/>
<circle cx="935.1" cy="1003.7" r="7.5" fill="#000"/>
<circle cx="963.5" cy="1003.7" r="8" fill="#000"/>
<circle cx="1029" cy="1035.2" r="8" fill="#000"/>
<circle cx="859" cy="1035.2" r="6.5" fill="#000"/>
<circle cx="851.8" cy="1046.3" r="9" fill="#000"/>
<circle cx="866" cy="1046.3" r="8.5" fill="#000"/>
<circle cx="875.9" cy="1089.7" r="8" fill="#000"/>
<circle cx="943" cy="1088.1" r="9" fill="#000"/>
<circle cx="935.1" cy="1108.2" r="9" fill="#000"/>
<circle cx="939.8" cy="1133.9" r="8" fill="#000"/>
<circle cx="786" cy="1133.9" r="11.5" fill="#000"/>
<circle cx="780.3" cy="1151.1" r="8.2" fill="#000"/>
<circle cx="782" cy="1253" r="18.1" fill="#000"/>
<circle cx="820.7" cy="1289.7" r="7.7" fill="#000"/>
<circle cx="765.5" cy="1341.8" r="6.3" fill="#000"/>
<path d="M766,1190.9 L1023.2,906.2" stroke="#b0192d" stroke-width="5.5"/>
<path d="M764.6,1194.2 L1023.1,863.4" stroke="#b0192d" stroke-width="5.5" stroke-dasharray="28 28.75"/>
<rect x="835" y="1197.6000000000001" width="7.899999999999977" height="5.2" fill="#b0192d"/>
<rect x="847" y="1197.6000000000001" width="9.399999999999977" height="5.2" fill="#b0192d"/>
<rect x="860.6" y="1197.6000000000001" width="9.399999999999977" height="5.2" fill="#b0192d"/>
<rect x="835" y="1231.5" width="39.1" height="5.2" fill="#b0192d"/>
<text x="890.80" y="1207.50" font-size="23.5" textLength="104.65" lengthAdjust="spacingAndGlyphs" fill="#b3262f">Weighted</text>
<text x="888.74" y="1241.40" font-size="23.5" textLength="135.99" lengthAdjust="spacingAndGlyphs" fill="#b3262f">Unweighted</text>
<text x="780.86" y="949.10" font-size="23.5" textLength="71.44" lengthAdjust="spacingAndGlyphs" fill="#111">Family</text>
<path d="M859,931.3 L869.5,919.8" stroke="#222" stroke-width="1.5"/>
<path d="M873.5,915.5 L864.5,919.5 L870.5,925 Z" fill="#222"/>
<text x="858.64" y="1447.10" font-size="23.5" font-style="italic" textLength="16.01" lengthAdjust="spacingAndGlyphs" fill="#111">T</text><text x="873.43" y="1453.40" font-size="15.5" textLength="16.30" lengthAdjust="spacingAndGlyphs" fill="#111">m</text><text x="894.04" y="1447.10" font-size="23.5" textLength="43.36" lengthAdjust="spacingAndGlyphs" fill="#111">(°C)</text>
<g transform="rotate(-90)" fill="#111"><text x="-1169.85" y="661.90" font-size="24.5" textLength="100.08" lengthAdjust="spacingAndGlyphs" fill="#000">Mean CT</text><text x="-1069.90" y="670.00" font-size="15.5" textLength="32.25" lengthAdjust="spacingAndGlyphs" fill="#000">max</text><text x="-1032.96" y="661.90" font-size="24.5" textLength="43.58" lengthAdjust="spacingAndGlyphs" fill="#000">(°C)</text></g>
<text x="-0.60" y="1490.80" font-size="32" font-weight="bold" textLength="22.24" lengthAdjust="spacingAndGlyphs" fill="#000">e</text>
<path d="M102.4,1485 V2122.4 H603" fill="none" stroke="#141414" stroke-width="1.4"/>
<path d="M92.4,1533.5 H102.4" stroke="#141414" stroke-width="1.4"/>
<path d="M92.4,1720.3 H102.4" stroke="#141414" stroke-width="1.4"/>
<path d="M92.4,1906.8 H102.4" stroke="#141414" stroke-width="1.4"/>
<path d="M92.4,2093.9 H102.4" stroke="#141414" stroke-width="1.4"/>
<path d="M150.7,2122.4 V2132.4" stroke="#141414" stroke-width="1.4"/>
<path d="M231.7,2122.4 V2132.4" stroke="#141414" stroke-width="1.4"/>
<path d="M312.6,2122.4 V2132.4" stroke="#141414" stroke-width="1.4"/>
<path d="M394.2,2122.4 V2132.4" stroke="#141414" stroke-width="1.4"/>
<path d="M475.1,2122.4 V2132.4" stroke="#141414" stroke-width="1.4"/>
<path d="M556.1,2122.4 V2132.4" stroke="#141414" stroke-width="1.4"/>
<text x="52.94" y="1541.10" font-size="23.5" textLength="27.97" lengthAdjust="spacingAndGlyphs" fill="#111">60</text>
<text x="52.94" y="1727.90" font-size="23.5" textLength="27.97" lengthAdjust="spacingAndGlyphs" fill="#111">50</text>
<text x="52.94" y="1914.40" font-size="23.5" textLength="27.97" lengthAdjust="spacingAndGlyphs" fill="#111">40</text>
<text x="52.94" y="2101.50" font-size="23.5" textLength="27.97" lengthAdjust="spacingAndGlyphs" fill="#111">30</text>
<text x="138.63" y="2160.80" font-size="23.5" textLength="23.75" lengthAdjust="spacingAndGlyphs" fill="#111">Di</text>
<text x="215.48" y="2160.80" font-size="23.5" textLength="32.14" lengthAdjust="spacingAndGlyphs" fill="#111">Co</text>
<text x="296.26" y="2160.80" font-size="23.5" textLength="30.73" lengthAdjust="spacingAndGlyphs" fill="#111">Hy</text>
<text x="379.74" y="2160.80" font-size="23.5" textLength="27.97" lengthAdjust="spacingAndGlyphs" fill="#111">Le</text>
<text x="458.63" y="2160.80" font-size="23.5" textLength="32.14" lengthAdjust="spacingAndGlyphs" fill="#111">He</text>
<text x="541.64" y="2160.80" font-size="23.5" textLength="27.93" lengthAdjust="spacingAndGlyphs" fill="#111">Or</text>
<path d="M121.7,1512.7 L124.9,1509.5 L135.3,1506.4 L137.4,1509.1 L145.7,1510.6 L158.2,1516.8 L166.5,1518.9 L174.8,1519.9 L179.0,1515.8 L187.3,1512.7 L190.4,1514.7 L197.7,1515.4 L193.5,1520.0 L189.4,1525.2 L189.0,1557.4 L194.6,1565.7 L190.4,1569.9 L183.1,1574.1 L179.0,1582.4 L175.9,1589.7 L171.7,1591.1 L158.2,1583.4 L157.1,1578.2 L145.7,1572.0 L120.7,1559.5 L120.3,1549.1 L124.9,1541.8 L128.0,1534.5 L130.1,1530.4 L127.0,1524.1 L124.9,1517.9 Z" fill="#000" stroke="#000" stroke-width="1" stroke-linejoin="round"/><text x="128.50" y="1556.40" font-size="20.5" textLength="56.60" lengthAdjust="spacingAndGlyphs" fill="#fff">Kenya</text>
<path d="M150.75,1625.00 C150.75,1628.33 150.74,1639.17 150.75,1645.00 C150.76,1650.83 150.62,1653.72 150.80,1660.00 C150.97,1666.28 151.60,1675.13 151.80,1682.70 C152.00,1690.27 151.87,1699.72 152.00,1705.40 C152.13,1711.08 152.30,1713.02 152.60,1716.80 C152.90,1720.58 153.30,1724.32 153.80,1728.10 C154.30,1731.88 154.93,1735.72 155.60,1739.50 C156.27,1743.28 157.18,1747.40 157.80,1750.80 C158.42,1754.20 158.63,1756.65 159.30,1759.90 C159.97,1763.15 160.63,1766.05 161.80,1770.30 C162.97,1774.55 164.63,1780.35 166.30,1785.40 C167.97,1790.45 170.12,1795.55 171.80,1800.60 C173.48,1805.65 175.48,1811.28 176.40,1815.70 C177.32,1820.12 177.25,1823.32 177.30,1827.10 C177.35,1830.88 177.15,1833.98 176.70,1838.40 C176.25,1842.82 175.28,1848.33 174.60,1853.60 C173.92,1858.87 173.25,1864.75 172.60,1870.00 C171.95,1875.25 171.65,1880.05 170.70,1885.10 C169.75,1890.15 168.23,1895.25 166.90,1900.30 C165.57,1905.35 163.93,1910.35 162.70,1915.40 C161.47,1920.45 160.32,1925.55 159.50,1930.60 C158.68,1935.65 158.02,1940.67 157.80,1945.70 C157.58,1950.73 158.23,1955.75 158.20,1960.80 C158.17,1965.85 158.10,1970.95 157.60,1976.00 C157.10,1981.05 155.98,1986.05 155.20,1991.10 C154.42,1996.15 153.50,2001.82 152.90,2006.30 C152.30,2010.78 151.90,2014.05 151.60,2018.00 C151.30,2021.95 151.23,2017.25 151.10,2030.00 C150.97,2042.75 150.85,2083.75 150.80,2094.50 L149.40,2094.50 C149.35,2083.75 149.23,2042.75 149.10,2030.00 C148.97,2017.25 148.90,2021.95 148.60,2018.00 C148.30,2014.05 147.90,2010.78 147.30,2006.30 C146.70,2001.82 145.78,1996.15 145.00,1991.10 C144.22,1986.05 143.10,1981.05 142.60,1976.00 C142.10,1970.95 142.03,1965.85 142.00,1960.80 C141.97,1955.75 142.62,1950.73 142.40,1945.70 C142.18,1940.67 141.52,1935.65 140.70,1930.60 C139.88,1925.55 138.73,1920.45 137.50,1915.40 C136.27,1910.35 134.63,1905.35 133.30,1900.30 C131.97,1895.25 130.45,1890.15 129.50,1885.10 C128.55,1880.05 128.25,1875.25 127.60,1870.00 C126.95,1864.75 126.28,1858.87 125.60,1853.60 C124.92,1848.33 123.95,1842.82 123.50,1838.40 C123.05,1833.98 122.85,1830.88 122.90,1827.10 C122.95,1823.32 122.88,1820.12 123.80,1815.70 C124.72,1811.28 126.72,1805.65 128.40,1800.60 C130.08,1795.55 132.23,1790.45 133.90,1785.40 C135.57,1780.35 137.23,1774.55 138.40,1770.30 C139.57,1766.05 140.23,1763.15 140.90,1759.90 C141.57,1756.65 141.78,1754.20 142.40,1750.80 C143.02,1747.40 143.93,1743.28 144.60,1739.50 C145.27,1735.72 145.90,1731.88 146.40,1728.10 C146.90,1724.32 147.30,1720.58 147.60,1716.80 C147.90,1713.02 148.07,1711.08 148.20,1705.40 C148.33,1699.72 148.20,1690.27 148.40,1682.70 C148.60,1675.13 149.23,1666.28 149.40,1660.00 C149.57,1653.72 149.44,1650.83 149.45,1645.00 C149.46,1639.17 149.45,1628.33 149.45,1625.00 Z" fill="#797c66" stroke="#333333" stroke-width="2.0" stroke-linejoin="round"/>
<path d="M232.05,1549.90 C232.05,1552.42 231.91,1560.12 232.05,1565.00 C232.19,1569.88 232.48,1572.73 232.90,1579.20 C233.32,1585.67 233.78,1595.60 234.60,1603.80 C235.42,1612.00 236.87,1620.20 237.80,1628.40 C238.73,1636.60 239.23,1644.80 240.20,1653.00 C241.17,1661.20 242.37,1669.40 243.60,1677.60 C244.83,1685.80 246.35,1694.00 247.60,1702.20 C248.85,1710.40 250.20,1718.60 251.10,1726.80 C252.00,1735.00 252.88,1743.20 253.00,1751.40 C253.12,1759.60 252.63,1769.57 251.80,1776.00 C250.97,1782.43 249.42,1783.57 248.00,1790.00 C246.58,1796.43 244.35,1806.40 243.30,1814.60 C242.25,1822.80 242.07,1831.00 241.70,1839.20 C241.33,1847.40 241.38,1855.60 241.10,1863.80 C240.82,1872.00 240.35,1880.20 240.00,1888.40 C239.65,1896.60 239.57,1904.80 239.00,1913.00 C238.43,1921.20 237.50,1929.40 236.60,1937.60 C235.70,1945.80 234.36,1955.63 233.60,1962.20 C232.84,1968.77 232.31,1964.30 232.05,1977.00 C231.79,1989.70 232.05,2028.17 232.05,2038.40 L230.75,2038.40 C230.75,2028.17 231.01,1989.70 230.75,1977.00 C230.49,1964.30 229.96,1968.77 229.20,1962.20 C228.44,1955.63 227.10,1945.80 226.20,1937.60 C225.30,1929.40 224.37,1921.20 223.80,1913.00 C223.23,1904.80 223.15,1896.60 222.80,1888.40 C222.45,1880.20 221.98,1872.00 221.70,1863.80 C221.42,1855.60 221.47,1847.40 221.10,1839.20 C220.73,1831.00 220.55,1822.80 219.50,1814.60 C218.45,1806.40 216.22,1796.43 214.80,1790.00 C213.38,1783.57 211.83,1782.43 211.00,1776.00 C210.17,1769.57 209.68,1759.60 209.80,1751.40 C209.92,1743.20 210.80,1735.00 211.70,1726.80 C212.60,1718.60 213.95,1710.40 215.20,1702.20 C216.45,1694.00 217.97,1685.80 219.20,1677.60 C220.43,1669.40 221.63,1661.20 222.60,1653.00 C223.57,1644.80 224.07,1636.60 225.00,1628.40 C225.93,1620.20 227.38,1612.00 228.20,1603.80 C229.02,1595.60 229.48,1585.67 229.90,1579.20 C230.32,1572.73 230.61,1569.88 230.75,1565.00 C230.89,1560.12 230.75,1552.42 230.75,1549.90 Z" fill="#d3c29a" stroke="#333333" stroke-width="2.0" stroke-linejoin="round"/>
<path d="M313.25,1549.90 C313.25,1552.42 313.19,1560.53 313.25,1565.00 C313.31,1569.47 313.31,1570.87 313.60,1576.70 C313.89,1582.53 314.72,1592.40 315.00,1600.00 C315.28,1607.60 315.25,1614.67 315.30,1622.30 C315.35,1629.93 315.17,1638.68 315.30,1645.80 C315.43,1652.92 315.68,1659.70 316.10,1665.00 C316.52,1670.30 316.72,1673.45 317.80,1677.60 C318.88,1681.75 320.67,1685.80 322.60,1689.90 C324.53,1694.00 326.83,1698.10 329.40,1702.20 C331.97,1706.30 335.53,1710.40 338.00,1714.50 C340.47,1718.60 342.80,1722.70 344.20,1726.80 C345.60,1730.90 346.60,1735.00 346.40,1739.10 C346.20,1743.20 344.60,1747.30 343.00,1751.40 C341.40,1755.50 338.95,1759.60 336.80,1763.70 C334.65,1767.80 331.53,1771.62 330.10,1776.00 C328.67,1780.38 327.75,1783.57 328.20,1790.00 C328.65,1796.43 331.88,1808.45 332.80,1814.60 C333.72,1820.75 333.95,1822.80 333.70,1826.90 C333.45,1831.00 332.73,1835.10 331.30,1839.20 C329.87,1843.30 327.15,1847.40 325.10,1851.50 C323.05,1855.60 320.58,1859.70 319.00,1863.80 C317.42,1867.90 316.22,1871.73 315.60,1876.10 C314.98,1880.47 315.35,1884.35 315.30,1890.00 C315.25,1895.65 315.37,1904.17 315.30,1910.00 C315.23,1915.83 315.18,1920.40 314.90,1925.00 C314.62,1929.60 313.88,1934.27 313.60,1937.60 C313.33,1940.93 313.31,1928.20 313.25,1945.00 C313.19,1961.80 313.25,2022.83 313.25,2038.40 L311.95,2038.40 C311.95,2022.83 312.01,1961.80 311.95,1945.00 C311.89,1928.20 311.88,1940.93 311.60,1937.60 C311.33,1934.27 310.58,1929.60 310.30,1925.00 C310.02,1920.40 309.97,1915.83 309.90,1910.00 C309.83,1904.17 309.95,1895.65 309.90,1890.00 C309.85,1884.35 310.22,1880.47 309.60,1876.10 C308.98,1871.73 307.78,1867.90 306.20,1863.80 C304.62,1859.70 302.15,1855.60 300.10,1851.50 C298.05,1847.40 295.33,1843.30 293.90,1839.20 C292.47,1835.10 291.75,1831.00 291.50,1826.90 C291.25,1822.80 291.48,1820.75 292.40,1814.60 C293.32,1808.45 296.55,1796.43 297.00,1790.00 C297.45,1783.57 296.53,1780.38 295.10,1776.00 C293.67,1771.62 290.55,1767.80 288.40,1763.70 C286.25,1759.60 283.80,1755.50 282.20,1751.40 C280.60,1747.30 279.00,1743.20 278.80,1739.10 C278.60,1735.00 279.60,1730.90 281.00,1726.80 C282.40,1722.70 284.73,1718.60 287.20,1714.50 C289.67,1710.40 293.23,1706.30 295.80,1702.20 C298.37,1698.10 300.67,1694.00 302.60,1689.90 C304.53,1685.80 306.32,1681.75 307.40,1677.60 C308.48,1673.45 308.68,1670.30 309.10,1665.00 C309.52,1659.70 309.77,1652.92 309.90,1645.80 C310.03,1638.68 309.85,1629.93 309.90,1622.30 C309.95,1614.67 309.92,1607.60 310.20,1600.00 C310.48,1592.40 311.31,1582.53 311.60,1576.70 C311.89,1570.87 311.89,1569.47 311.95,1565.00 C312.01,1560.53 311.95,1552.42 311.95,1549.90 Z" fill="#fcc18b" stroke="#333333" stroke-width="2.0" stroke-linejoin="round"/>
<path d="M394.75,1606.20 C394.81,1610.82 395.03,1627.40 395.10,1633.90 C395.18,1640.40 394.92,1641.43 395.20,1645.20 C395.48,1648.97 396.25,1652.73 396.80,1656.50 C397.35,1660.27 397.93,1664.03 398.50,1667.80 C399.07,1671.57 399.55,1675.33 400.20,1679.10 C400.85,1682.87 401.18,1686.63 402.40,1690.40 C403.62,1694.17 405.38,1697.93 407.50,1701.70 C409.62,1705.47 412.52,1709.23 415.10,1713.00 C417.68,1716.77 420.73,1720.53 423.00,1724.30 C425.27,1728.07 427.50,1731.83 428.70,1735.60 C429.90,1739.37 430.25,1743.13 430.20,1746.90 C430.15,1750.67 429.22,1754.43 428.40,1758.20 C427.58,1761.97 426.52,1765.73 425.30,1769.50 C424.08,1773.27 422.52,1777.03 421.10,1780.80 C419.68,1784.57 418.03,1788.33 416.80,1792.10 C415.57,1795.87 414.55,1799.63 413.70,1803.40 C412.85,1807.17 412.45,1810.93 411.70,1814.70 C410.95,1818.47 410.13,1822.23 409.20,1826.00 C408.27,1829.77 407.13,1833.53 406.10,1837.30 C405.07,1841.07 403.78,1845.73 403.00,1848.60 C402.22,1851.47 401.93,1851.12 401.40,1854.50 C400.87,1857.88 400.33,1864.08 399.80,1868.90 C399.27,1873.72 398.75,1878.57 398.20,1883.40 C397.65,1888.23 396.85,1893.08 396.50,1897.90 C396.15,1902.72 396.17,1907.48 396.10,1912.30 C396.03,1917.12 396.15,1921.97 396.10,1926.80 C396.05,1931.63 395.93,1936.48 395.80,1941.30 C395.67,1946.12 395.48,1950.88 395.30,1955.70 C395.12,1960.52 394.84,1965.98 394.75,1970.20 C394.66,1974.42 394.75,1979.20 394.75,1981.00 L393.45,1981.00 C393.45,1979.20 393.54,1974.42 393.45,1970.20 C393.36,1965.98 393.08,1960.52 392.90,1955.70 C392.73,1950.88 392.53,1946.12 392.40,1941.30 C392.27,1936.48 392.15,1931.63 392.10,1926.80 C392.05,1921.97 392.17,1917.12 392.10,1912.30 C392.03,1907.48 392.05,1902.72 391.70,1897.90 C391.35,1893.08 390.55,1888.23 390.00,1883.40 C389.45,1878.57 388.93,1873.72 388.40,1868.90 C387.87,1864.08 387.33,1857.88 386.80,1854.50 C386.27,1851.12 385.98,1851.47 385.20,1848.60 C384.42,1845.73 383.13,1841.07 382.10,1837.30 C381.07,1833.53 379.93,1829.77 379.00,1826.00 C378.07,1822.23 377.25,1818.47 376.50,1814.70 C375.75,1810.93 375.35,1807.17 374.50,1803.40 C373.65,1799.63 372.63,1795.87 371.40,1792.10 C370.17,1788.33 368.52,1784.57 367.10,1780.80 C365.68,1777.03 364.12,1773.27 362.90,1769.50 C361.68,1765.73 360.62,1761.97 359.80,1758.20 C358.98,1754.43 358.05,1750.67 358.00,1746.90 C357.95,1743.13 358.30,1739.37 359.50,1735.60 C360.70,1731.83 362.93,1728.07 365.20,1724.30 C367.47,1720.53 370.52,1716.77 373.10,1713.00 C375.68,1709.23 378.58,1705.47 380.70,1701.70 C382.82,1697.93 384.58,1694.17 385.80,1690.40 C387.02,1686.63 387.35,1682.87 388.00,1679.10 C388.65,1675.33 389.13,1671.57 389.70,1667.80 C390.27,1664.03 390.85,1660.27 391.40,1656.50 C391.95,1652.73 392.72,1648.97 393.00,1645.20 C393.28,1641.43 393.03,1640.40 393.10,1633.90 C393.18,1627.40 393.39,1610.82 393.45,1606.20 Z" fill="#cfae9f" stroke="#333333" stroke-width="2.0" stroke-linejoin="round"/>
<path d="M483.20,1569.70 C483.20,1572.00 483.33,1578.98 483.20,1583.50 C483.07,1588.02 483.00,1592.63 482.40,1596.80 C481.80,1600.97 480.50,1603.75 479.60,1608.50 C478.70,1613.25 477.62,1619.72 477.00,1625.30 C476.38,1630.88 475.98,1636.43 475.85,1642.00 C475.72,1647.57 475.77,1653.12 476.20,1658.70 C476.62,1664.28 477.48,1669.92 478.40,1675.50 C479.32,1681.08 480.45,1686.63 481.70,1692.20 C482.95,1697.77 484.50,1703.33 485.90,1708.90 C487.30,1714.47 488.85,1720.02 490.10,1725.60 C491.35,1731.18 492.43,1736.82 493.40,1742.40 C494.37,1747.98 495.30,1753.53 495.90,1759.10 C496.50,1764.67 496.97,1770.22 497.00,1775.80 C497.03,1781.38 496.77,1787.02 496.10,1792.60 C495.43,1798.18 494.22,1803.73 493.00,1809.30 C491.78,1814.87 490.17,1820.43 488.80,1826.00 C487.43,1831.57 485.53,1837.12 484.80,1842.70 C484.07,1848.28 484.47,1853.92 484.40,1859.50 C484.33,1865.08 484.40,1870.63 484.40,1876.20 C484.40,1881.77 484.53,1887.75 484.40,1892.90 C484.27,1898.05 483.73,1904.73 483.60,1907.10 L466.80,1907.10 C466.67,1904.73 466.13,1898.05 466.00,1892.90 C465.87,1887.75 466.00,1881.77 466.00,1876.20 C466.00,1870.63 466.07,1865.08 466.00,1859.50 C465.93,1853.92 466.33,1848.28 465.60,1842.70 C464.87,1837.12 462.97,1831.57 461.60,1826.00 C460.23,1820.43 458.62,1814.87 457.40,1809.30 C456.18,1803.73 454.97,1798.18 454.30,1792.60 C453.63,1787.02 453.37,1781.38 453.40,1775.80 C453.43,1770.22 453.90,1764.67 454.50,1759.10 C455.10,1753.53 456.03,1747.98 457.00,1742.40 C457.97,1736.82 459.05,1731.18 460.30,1725.60 C461.55,1720.02 463.10,1714.47 464.50,1708.90 C465.90,1703.33 467.45,1697.77 468.70,1692.20 C469.95,1686.63 471.08,1681.08 472.00,1675.50 C472.92,1669.92 473.77,1664.28 474.20,1658.70 C474.62,1653.12 474.68,1647.57 474.55,1642.00 C474.42,1636.43 474.02,1630.88 473.40,1625.30 C472.77,1619.72 471.70,1613.25 470.80,1608.50 C469.90,1603.75 468.60,1600.97 468.00,1596.80 C467.40,1592.63 467.33,1588.02 467.20,1583.50 C467.07,1578.98 467.20,1572.00 467.20,1569.70 Z" fill="#a6ae7f" stroke="#333333" stroke-width="2.0" stroke-linejoin="round"/>
<path d="M558.10,1512.90 C558.13,1515.50 557.97,1522.73 558.30,1528.50 C558.63,1534.27 559.57,1541.17 560.10,1547.50 C560.63,1553.83 561.22,1560.18 561.50,1566.50 C561.78,1572.82 561.80,1579.08 561.80,1585.40 C561.80,1591.72 561.38,1599.65 561.50,1604.40 C561.62,1609.15 561.13,1609.15 562.50,1613.90 C563.87,1618.65 566.85,1626.57 569.70,1632.90 C572.55,1639.23 577.03,1645.57 579.60,1651.90 C582.17,1658.23 584.55,1664.57 585.10,1670.90 C585.65,1677.23 584.22,1683.58 582.90,1689.90 C581.58,1696.22 578.77,1702.48 577.20,1708.80 C575.63,1715.12 574.33,1721.47 573.50,1727.80 C572.67,1734.13 572.68,1740.47 572.20,1746.80 C571.72,1753.13 571.18,1759.47 570.60,1765.80 C570.02,1772.13 569.48,1778.47 568.70,1784.80 C567.92,1791.13 566.88,1797.47 565.90,1803.80 C564.92,1810.13 563.72,1816.48 562.80,1822.80 C561.88,1829.12 561.08,1835.38 560.40,1841.70 C559.72,1848.02 559.07,1854.37 558.70,1860.70 C558.33,1867.03 558.32,1871.93 558.20,1879.70 C558.08,1887.47 558.03,1902.70 558.00,1907.30 L555.80,1907.30 C555.77,1902.70 555.72,1887.47 555.60,1879.70 C555.48,1871.93 555.47,1867.03 555.10,1860.70 C554.73,1854.37 554.08,1848.02 553.40,1841.70 C552.72,1835.38 551.92,1829.12 551.00,1822.80 C550.08,1816.48 548.88,1810.13 547.90,1803.80 C546.92,1797.47 545.88,1791.13 545.10,1784.80 C544.32,1778.47 543.78,1772.13 543.20,1765.80 C542.62,1759.47 542.08,1753.13 541.60,1746.80 C541.12,1740.47 541.13,1734.13 540.30,1727.80 C539.47,1721.47 538.17,1715.12 536.60,1708.80 C535.03,1702.48 532.22,1696.22 530.90,1689.90 C529.58,1683.58 528.15,1677.23 528.70,1670.90 C529.25,1664.57 531.63,1658.23 534.20,1651.90 C536.77,1645.57 541.25,1639.23 544.10,1632.90 C546.95,1626.57 549.93,1618.65 551.30,1613.90 C552.67,1609.15 552.18,1609.15 552.30,1604.40 C552.42,1599.65 552.00,1591.72 552.00,1585.40 C552.00,1579.08 552.02,1572.82 552.30,1566.50 C552.58,1560.18 553.17,1553.83 553.70,1547.50 C554.23,1541.17 555.17,1534.27 555.50,1528.50 C555.83,1522.73 555.67,1515.50 555.70,1512.90 Z" fill="#dd7b6e" stroke="#333333" stroke-width="2.0" stroke-linejoin="round"/>
<circle cx="150.0" cy="1853.6" r="7.9" fill="#000"/>
<path d="M231.4,1762 V1779.8" stroke="#000" stroke-width="2.5"/>
<circle cx="231.4" cy="1771.5" r="7.9" fill="#000"/>
<circle cx="312.6" cy="1769.2" r="7.9" fill="#000"/>
<circle cx="394.1" cy="1769.5" r="7.9" fill="#000"/>
<path d="M475.2,1718.1 V1803.4" stroke="#000" stroke-width="2.5"/>
<circle cx="475.2" cy="1762.4" r="7.9" fill="#000"/>
<path d="M556.9,1689.9 V1718.3" stroke="#000" stroke-width="2.5"/>
<circle cx="556.9" cy="1703.7" r="7.9" fill="#000"/>
<g transform="rotate(-90)" fill="#111"><text x="-1860.14" y="26.00" font-size="24.5" textLength="33.16" lengthAdjust="spacingAndGlyphs" fill="#000">CT</text><text x="-1827.02" y="34.10" font-size="15.5" textLength="31.25" lengthAdjust="spacingAndGlyphs" fill="#000">max</text><text x="-1790.38" y="26.00" font-size="24.5" textLength="43.18" lengthAdjust="spacingAndGlyphs" fill="#000">(°C)</text></g>
<text x="642.31" y="1492.00" font-size="32" font-weight="bold" textLength="11.45" lengthAdjust="spacingAndGlyphs" fill="#000">f</text>
<path d="M741.2,1532.7 V2126.0 H1035.5" fill="none" stroke="#141414" stroke-width="1.4"/>
<path d="M731.7,1681.4 H741.2" stroke="#141414" stroke-width="1.4"/>
<path d="M731.7,1842.0 H741.2" stroke="#141414" stroke-width="1.4"/>
<path d="M731.7,2001.9 H741.2" stroke="#141414" stroke-width="1.4"/>
<path d="M793.0,2126.0 V2136.0" stroke="#141414" stroke-width="1.4"/>
<path d="M880.2,2126.0 V2136.0" stroke="#141414" stroke-width="1.4"/>
<path d="M967.4,2126.0 V2136.0" stroke="#141414" stroke-width="1.4"/>
<text x="695.49" y="1689.70" font-size="23.5" textLength="27.97" lengthAdjust="spacingAndGlyphs" fill="#111">48</text>
<text x="694.99" y="1850.30" font-size="23.5" textLength="27.97" lengthAdjust="spacingAndGlyphs" fill="#111">44</text>
<text x="695.24" y="2010.20" font-size="23.5" textLength="27.97" lengthAdjust="spacingAndGlyphs" fill="#111">40</text>
<text x="779.30" y="2164.60" font-size="23.5" textLength="27.97" lengthAdjust="spacingAndGlyphs" fill="#111">43</text>
<text x="866.24" y="2164.60" font-size="23.5" textLength="27.97" lengthAdjust="spacingAndGlyphs" fill="#111">44</text>
<text x="953.57" y="2164.60" font-size="23.5" textLength="27.97" lengthAdjust="spacingAndGlyphs" fill="#111">45</text>
<circle cx="894.6" cy="1574" r="6.2" fill="#000"/>
<circle cx="906.9" cy="1594.3" r="8.2" fill="#000"/>
<circle cx="864.6" cy="1600.4" r="8.8" fill="#000"/>
<circle cx="894.6" cy="1636.2" r="11.4" fill="#000"/>
<circle cx="910.1" cy="1645.6" r="11.4" fill="#000"/>
<circle cx="927.7" cy="1637.7" r="7.3" fill="#000"/>
<circle cx="867.6" cy="1680.8" r="7.6" fill="#000"/>
<circle cx="953.5" cy="1680.8" r="13.2" fill="#000"/>
<circle cx="982" cy="1688.4" r="8.5" fill="#000"/>
<circle cx="842.1" cy="1727.1" r="8.5" fill="#000"/>
<circle cx="872" cy="1720.6" r="7.9" fill="#000"/>
<circle cx="882.2" cy="1729.2" r="7.3" fill="#000"/>
<circle cx="926.8" cy="1739.4" r="8.2" fill="#000"/>
<circle cx="935.9" cy="1750" r="8.5" fill="#000"/>
<circle cx="850.6" cy="1767.6" r="6.2" fill="#000"/>
<circle cx="920.4" cy="1771.1" r="7.3" fill="#000"/>
<circle cx="1023" cy="1771.1" r="7.3" fill="#000"/>
<circle cx="857.7" cy="1816.9" r="7.9" fill="#000"/>
<circle cx="843.7" cy="1830.7" r="9.1" fill="#000"/>
<circle cx="770.3" cy="1836.2" r="8.1" fill="#000"/>
<circle cx="755.1" cy="1841.5" r="5.9" fill="#000"/>
<circle cx="776" cy="1962.2" r="11.2" fill="#000"/>
<circle cx="753.6" cy="1995.5" r="6" fill="#000"/>
<circle cx="772" cy="2098.4" r="17.6" fill="#000"/>
<path d="M754.2,1893.2 L1012.7,1595.7" stroke="#b0192d" stroke-width="5.5"/>
<path d="M753.2,1946.1 L1011.3,1562" stroke="#b0192d" stroke-width="5.5" stroke-dasharray="27.2 27.6"/>
<text x="906.33" y="1874.40" font-size="23.5" textLength="69.01" lengthAdjust="spacingAndGlyphs" fill="#111">No. of</text>
<text x="897.94" y="1905.10" font-size="23.5" textLength="85.78" lengthAdjust="spacingAndGlyphs" fill="#111">species</text>
<circle cx="915.8" cy="1932.7" r="11.4" fill="#000"/>
<text x="940.89" y="1940.80" font-size="23.5" textLength="29.05" lengthAdjust="spacingAndGlyphs" fill="#111">20</text>
<circle cx="915.8" cy="1964.1" r="14.1" fill="#000"/>
<text x="941.69" y="1969.80" font-size="23.5" textLength="28.22" lengthAdjust="spacingAndGlyphs" fill="#111">40</text>
<circle cx="915.8" cy="2001.6" r="16.0" fill="#000"/>
<text x="940.89" y="2007.20" font-size="23.5" textLength="29.05" lengthAdjust="spacingAndGlyphs" fill="#111">60</text>
<circle cx="915.8" cy="2043.6" r="17.6" fill="#000"/>
<text x="941.17" y="2051.50" font-size="23.5" textLength="28.77" lengthAdjust="spacingAndGlyphs" fill="#111">80</text>
<text x="848.64" y="2202.90" font-size="23.5" font-style="italic" textLength="16.01" lengthAdjust="spacingAndGlyphs" fill="#111">T</text><text x="863.43" y="2209.20" font-size="15.5" textLength="16.30" lengthAdjust="spacingAndGlyphs" fill="#111">m</text><text x="884.04" y="2202.90" font-size="23.5" textLength="43.36" lengthAdjust="spacingAndGlyphs" fill="#111">(°C)</text>
<g transform="rotate(-90)" fill="#111"><text x="-1919.96" y="666.40" font-size="24.5" textLength="100.76" lengthAdjust="spacingAndGlyphs" fill="#000">Mean CT</text><text x="-1819.33" y="674.50" font-size="15.5" textLength="32.47" lengthAdjust="spacingAndGlyphs" fill="#000">max</text><text x="-1782.15" y="666.40" font-size="24.5" textLength="43.87" lengthAdjust="spacingAndGlyphs" fill="#000">(°C)</text></g>
</svg></body></html>
